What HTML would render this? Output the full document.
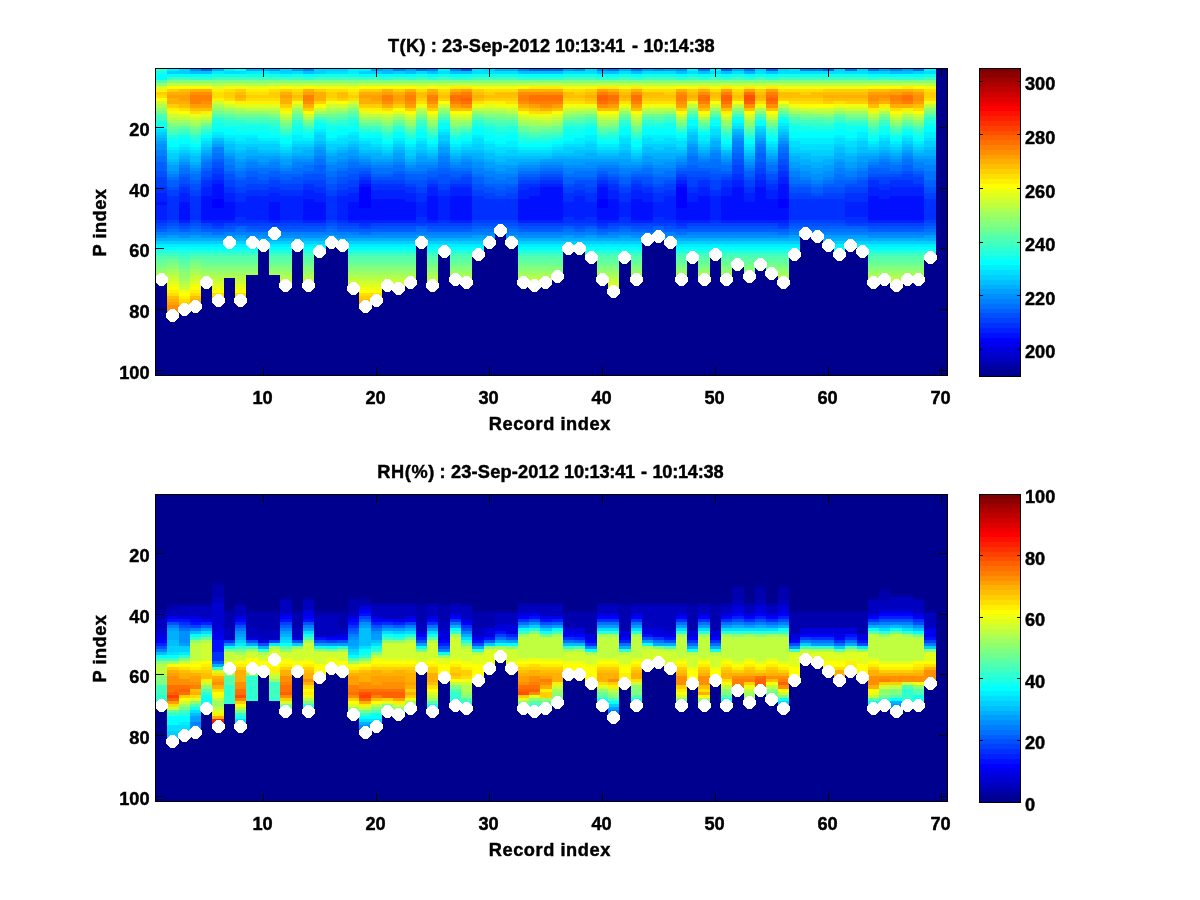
<!DOCTYPE html><html><head><meta charset="utf-8"><title>T(K) and RH(%) profiles</title>
<style>html,body{margin:0;padding:0;background:#fff}svg{display:block}text{font-family:"Liberation Sans",Arial,Helvetica,sans-serif;font-weight:bold;font-size:18.2px;fill:#000;stroke:#000;stroke-width:0.45px}</style></head><body>
<svg width="1200" height="900" viewBox="0 0 1200 900" shape-rendering="crispEdges">
<rect width="1200" height="900" fill="#fff"/>
<g>
<rect x="156" y="68" width="791" height="307" fill="#00008f"/>
<path fill="#0000ff" d="M212 199h12v9h-12zM359 187h12v21h-12zM597 199h11v9h-11zM676 187h11v21h-11zM778 199h11v9h-11z"/>
<path fill="#0010ff" d="M156 202h11v3h-11zM179 202h11v18h-11zM201 196h11v24h-11zM212 184h12v15h-12zM212 208h12v12h-12zM224 202h11v18h-11zM269 202h11v18h-11zM303 199h11v21h-11zM314 202h12v18h-12zM348 202h11v18h-11zM359 184h12v3h-12zM359 208h12v12h-12zM371 199h11v21h-11zM382 199h11v21h-11zM393 199h12v21h-12zM405 202h11v18h-11zM427 196h11v24h-11zM450 196h11v24h-11zM461 196h11v24h-11zM518 199h11v21h-11zM529 196h11v24h-11zM540 187h12v33h-12zM552 187h11v33h-11zM597 187h11v12h-11zM597 208h11v12h-11zM608 199h11v21h-11zM631 199h11v21h-11zM642 202h11v18h-11zM676 184h11v3h-11zM676 208h11v12h-11zM687 202h11v18h-11zM698 196h12v24h-12zM721 196h11v24h-11zM732 187h12v33h-12zM744 202h11v18h-11zM755 187h11v33h-11zM766 199h12v21h-12zM778 184h11v15h-11zM778 208h11v12h-11zM868 196h11v24h-11zM879 199h11v21h-11zM890 196h12v24h-12zM902 196h11v24h-11zM913 196h11v24h-11z"/>
<path fill="#0020ff" d="M156 193h11v9h-11zM156 205h11v15h-11zM179 193h11v9h-11zM179 220h11v3h-11zM201 187h11v9h-11zM201 220h11v3h-11zM212 180h12v4h-12zM212 220h12v3h-12zM224 193h11v9h-11zM224 220h11v3h-11zM235 202h11v15h-11zM246 196h12v24h-12zM258 196h11v24h-11zM269 193h11v9h-11zM269 220h11v3h-11zM280 196h12v24h-12zM292 196h11v24h-11zM303 190h11v9h-11zM303 220h11v3h-11zM314 193h12v9h-12zM314 220h12v3h-12zM337 196h11v24h-11zM348 193h11v9h-11zM348 220h11v3h-11zM359 180h12v4h-12zM359 220h12v3h-12zM371 190h11v9h-11zM371 220h11v3h-11zM382 190h11v9h-11zM382 220h11v3h-11zM393 190h12v9h-12zM393 220h12v3h-12zM405 193h11v9h-11zM405 220h11v3h-11zM416 202h11v15h-11zM427 187h11v9h-11zM427 220h11v3h-11zM438 196h12v24h-12zM450 187h11v9h-11zM450 220h11v3h-11zM461 187h11v9h-11zM461 220h11v3h-11zM518 190h11v9h-11zM518 220h11v3h-11zM529 187h11v9h-11zM529 220h11v3h-11zM540 184h12v3h-12zM540 220h12v3h-12zM552 184h11v3h-11zM552 220h11v3h-11zM563 202h11v15h-11zM574 196h11v24h-11zM585 202h12v15h-12zM597 184h11v3h-11zM597 220h11v3h-11zM608 190h11v9h-11zM608 220h11v3h-11zM619 202h12v15h-12zM631 190h11v9h-11zM631 220h11v3h-11zM642 193h11v9h-11zM642 220h11v3h-11zM653 202h11v15h-11zM664 196h12v24h-12zM676 180h11v4h-11zM676 220h11v3h-11zM687 193h11v9h-11zM687 220h11v3h-11zM698 187h12v9h-12zM698 220h12v3h-12zM710 196h11v24h-11zM721 187h11v9h-11zM721 220h11v3h-11zM732 180h12v7h-12zM732 220h12v3h-12zM744 193h11v9h-11zM744 220h11v3h-11zM755 180h11v7h-11zM755 220h11v3h-11zM766 190h12v9h-12zM766 220h12v3h-12zM778 177h11v7h-11zM778 220h11v3h-11zM845 202h12v15h-12zM857 202h11v15h-11zM868 187h11v9h-11zM868 220h11v3h-11zM879 190h11v9h-11zM879 220h11v3h-11zM890 187h12v9h-12zM890 220h12v3h-12zM902 187h11v9h-11zM902 220h11v3h-11zM913 187h11v9h-11zM913 220h11v3h-11z"/>
<path fill="#0030ff" d="M156 187h11v6h-11zM156 220h11v3h-11zM167 196h12v24h-12zM179 187h11v6h-11zM190 196h11v24h-11zM201 180h11v7h-11zM212 174h12v6h-12zM212 223h12v3h-12zM224 187h11v6h-11zM235 193h11v9h-11zM235 217h11v6h-11zM246 190h12v6h-12zM246 220h12v3h-12zM258 190h11v6h-11zM258 220h11v3h-11zM269 187h11v6h-11zM280 190h12v6h-12zM280 220h12v3h-12zM292 190h11v6h-11zM292 220h11v3h-11zM303 184h11v6h-11zM314 187h12v6h-12zM326 196h11v24h-11zM337 190h11v6h-11zM337 220h11v3h-11zM348 187h11v6h-11zM359 177h12v3h-12zM359 223h12v3h-12zM371 184h11v6h-11zM382 184h11v6h-11zM393 184h12v6h-12zM405 187h11v6h-11zM416 193h11v9h-11zM416 217h11v6h-11zM427 184h11v3h-11zM438 190h12v6h-12zM438 220h12v3h-12zM450 184h11v3h-11zM461 184h11v3h-11zM472 196h12v24h-12zM484 199h11v21h-11zM495 199h11v21h-11zM506 199h12v21h-12zM518 184h11v6h-11zM529 184h11v3h-11zM540 180h12v4h-12zM552 180h11v4h-11zM563 193h11v9h-11zM563 217h11v6h-11zM574 190h11v6h-11zM574 220h11v3h-11zM585 193h12v9h-12zM585 217h12v6h-12zM597 180h11v4h-11zM597 223h11v3h-11zM608 184h11v6h-11zM619 193h12v9h-12zM619 217h12v6h-12zM631 184h11v6h-11zM642 187h11v6h-11zM653 193h11v9h-11zM653 217h11v6h-11zM664 190h12v6h-12zM664 220h12v3h-12zM676 177h11v3h-11zM676 223h11v3h-11zM687 187h11v6h-11zM698 180h12v7h-12zM710 190h11v6h-11zM710 220h11v3h-11zM721 180h11v7h-11zM732 174h12v6h-12zM744 187h11v6h-11zM755 174h11v6h-11zM766 184h12v6h-12zM778 171h11v6h-11zM778 223h11v3h-11zM789 199h11v21h-11zM800 199h11v21h-11zM811 199h12v21h-12zM823 199h11v21h-11zM834 199h11v21h-11zM845 193h12v9h-12zM845 217h12v6h-12zM857 193h11v9h-11zM857 217h11v6h-11zM868 180h11v7h-11zM879 184h11v6h-11zM890 180h12v7h-12zM902 180h11v7h-11zM913 184h11v3h-11zM924 199h12v21h-12z"/>
<path fill="#0040ff" d="M156 177h11v10h-11zM156 223h11v3h-11zM167 190h12v6h-12zM167 220h12v3h-12zM179 184h11v3h-11zM179 223h11v3h-11zM190 190h11v6h-11zM190 220h11v3h-11zM201 177h11v3h-11zM201 223h11v3h-11zM212 168h12v6h-12zM212 226h12v3h-12zM224 180h11v7h-11zM224 223h11v3h-11zM235 187h11v6h-11zM235 223h11v3h-11zM246 184h12v6h-12zM246 223h12v3h-12zM258 184h11v6h-11zM258 223h11v3h-11zM269 180h11v7h-11zM269 223h11v3h-11zM280 184h12v6h-12zM280 223h12v3h-12zM292 184h11v6h-11zM292 223h11v3h-11zM303 180h11v4h-11zM303 223h11v3h-11zM314 180h12v7h-12zM314 223h12v3h-12zM326 190h11v6h-11zM326 220h11v3h-11zM337 184h11v6h-11zM337 223h11v3h-11zM348 180h11v7h-11zM348 223h11v3h-11zM359 174h12v3h-12zM359 226h12v3h-12zM371 180h11v4h-11zM371 223h11v3h-11zM382 180h11v4h-11zM382 223h11v3h-11zM393 180h12v4h-12zM393 223h12v3h-12zM405 184h11v3h-11zM405 223h11v3h-11zM416 187h11v6h-11zM416 223h11v3h-11zM427 180h11v4h-11zM427 223h11v3h-11zM438 184h12v6h-12zM438 223h12v3h-12zM450 180h11v4h-11zM450 223h11v3h-11zM461 177h11v7h-11zM461 223h11v3h-11zM472 190h12v6h-12zM472 220h12v3h-12zM484 193h11v6h-11zM484 220h11v3h-11zM495 196h11v3h-11zM495 220h11v3h-11zM506 193h12v6h-12zM506 220h12v3h-12zM518 180h11v4h-11zM518 223h11v3h-11zM529 180h11v4h-11zM529 223h11v3h-11zM540 177h12v3h-12zM540 223h12v3h-12zM552 177h11v3h-11zM552 223h11v3h-11zM563 187h11v6h-11zM563 223h11v3h-11zM574 184h11v6h-11zM574 223h11v3h-11zM585 187h12v6h-12zM585 223h12v3h-12zM597 177h11v3h-11zM597 226h11v3h-11zM608 180h11v4h-11zM608 223h11v3h-11zM619 187h12v6h-12zM619 223h12v3h-12zM631 180h11v4h-11zM631 223h11v3h-11zM642 184h11v3h-11zM642 223h11v3h-11zM653 187h11v6h-11zM653 223h11v3h-11zM664 184h12v6h-12zM664 223h12v3h-12zM676 174h11v3h-11zM676 226h11v3h-11zM687 177h11v10h-11zM687 223h11v3h-11zM698 177h12v3h-12zM698 223h12v3h-12zM710 180h11v10h-11zM710 223h11v3h-11zM721 177h11v3h-11zM721 223h11v3h-11zM732 165h12v9h-12zM732 223h12v3h-12zM744 180h11v7h-11zM744 223h11v3h-11zM755 168h11v6h-11zM755 223h11v3h-11zM766 180h12v4h-12zM766 223h12v3h-12zM778 165h11v6h-11zM778 226h11v3h-11zM789 193h11v6h-11zM789 220h11v3h-11zM800 193h11v6h-11zM800 220h11v3h-11zM811 196h12v3h-12zM811 220h12v3h-12zM823 193h11v6h-11zM823 220h11v3h-11zM834 193h11v6h-11zM834 220h11v3h-11zM845 187h12v6h-12zM845 223h12v3h-12zM857 187h11v6h-11zM857 223h11v3h-11zM868 177h11v3h-11zM868 223h11v3h-11zM879 177h11v7h-11zM879 223h11v3h-11zM890 177h12v3h-12zM890 223h12v3h-12zM902 174h11v6h-11zM902 223h11v3h-11zM913 177h11v7h-11zM913 223h11v3h-11zM924 193h12v6h-12zM924 220h12v3h-12z"/>
<path fill="#0050ff" d="M156 171h11v6h-11zM156 226h11v3h-11zM167 187h12v3h-12zM167 223h12v3h-12zM179 177h11v7h-11zM179 226h11v3h-11zM190 184h11v6h-11zM190 223h11v3h-11zM201 171h11v6h-11zM201 226h11v3h-11zM212 162h12v6h-12zM224 174h11v6h-11zM224 226h11v3h-11zM235 180h11v7h-11zM246 177h12v7h-12zM246 226h12v3h-12zM258 180h11v4h-11zM258 226h11v3h-11zM269 177h11v3h-11zM269 226h11v3h-11zM280 180h12v4h-12zM280 226h12v3h-12zM292 177h11v7h-11zM292 226h11v3h-11zM303 174h11v6h-11zM303 226h11v3h-11zM314 174h12v6h-12zM314 226h12v3h-12zM326 184h11v6h-11zM326 223h11v3h-11zM337 177h11v7h-11zM337 226h11v3h-11zM348 174h11v6h-11zM348 226h11v3h-11zM359 171h12v3h-12zM371 177h11v3h-11zM371 226h11v3h-11zM382 177h11v3h-11zM382 226h11v3h-11zM393 174h12v6h-12zM393 226h12v3h-12zM405 180h11v4h-11zM405 226h11v3h-11zM416 180h11v7h-11zM427 177h11v3h-11zM427 226h11v3h-11zM438 174h12v10h-12zM438 226h12v3h-12zM450 177h11v3h-11zM450 226h11v3h-11zM461 68h11v3h-11zM461 174h11v3h-11zM461 226h11v3h-11zM472 184h12v6h-12zM472 223h12v3h-12zM484 187h11v6h-11zM484 223h11v3h-11zM495 190h11v6h-11zM495 223h11v3h-11zM506 187h12v6h-12zM506 223h12v3h-12zM518 177h11v3h-11zM518 226h11v3h-11zM529 177h11v3h-11zM529 226h11v3h-11zM540 174h12v3h-12zM540 226h12v3h-12zM552 174h11v3h-11zM552 226h11v3h-11zM563 184h11v3h-11zM574 180h11v4h-11zM574 226h11v3h-11zM585 180h12v7h-12zM597 174h11v3h-11zM608 177h11v3h-11zM608 226h11v3h-11zM619 184h12v3h-12zM631 177h11v3h-11zM631 226h11v3h-11zM642 177h11v7h-11zM642 226h11v3h-11zM653 184h11v3h-11zM664 180h12v4h-12zM664 226h12v3h-12zM676 171h11v3h-11zM687 171h11v6h-11zM687 226h11v3h-11zM698 171h12v6h-12zM698 226h12v3h-12zM710 174h11v6h-11zM710 226h11v3h-11zM721 174h11v3h-11zM721 226h11v3h-11zM732 159h12v6h-12zM732 226h12v3h-12zM744 177h11v3h-11zM744 226h11v3h-11zM755 162h11v6h-11zM755 226h11v3h-11zM766 174h12v6h-12zM766 226h12v3h-12zM778 159h11v6h-11zM789 187h11v6h-11zM789 223h11v3h-11zM800 187h11v6h-11zM800 223h11v3h-11zM811 193h12v3h-12zM811 223h12v3h-12zM823 187h11v6h-11zM823 223h11v3h-11zM834 187h11v6h-11zM834 223h11v3h-11zM845 184h12v3h-12zM857 180h11v7h-11zM868 174h11v3h-11zM868 226h11v3h-11zM879 174h11v3h-11zM879 226h11v3h-11zM890 174h12v3h-12zM890 226h12v3h-12zM902 171h11v3h-11zM902 226h11v3h-11zM913 174h11v3h-11zM913 226h11v3h-11zM924 187h12v6h-12zM924 223h12v3h-12z"/>
<path fill="#0060ff" d="M156 162h11v9h-11zM156 229h11v3h-11zM167 180h12v7h-12zM167 226h12v3h-12zM179 174h11v3h-11zM179 229h11v3h-11zM190 180h11v4h-11zM190 226h11v3h-11zM201 68h11v3h-11zM201 168h11v3h-11zM201 229h11v3h-11zM212 159h12v3h-12zM212 229h12v3h-12zM224 171h11v3h-11zM224 229h11v3h-11zM235 177h11v3h-11zM235 226h11v3h-11zM246 171h12v6h-12zM246 229h12v3h-12zM258 174h11v6h-11zM258 229h11v3h-11zM269 171h11v6h-11zM269 229h11v3h-11zM280 174h12v6h-12zM280 229h12v3h-12zM292 174h11v3h-11zM292 229h11v3h-11zM303 171h11v3h-11zM303 229h11v3h-11zM314 165h12v9h-12zM314 229h12v3h-12zM326 177h11v7h-11zM326 226h11v3h-11zM337 171h11v6h-11zM337 229h11v3h-11zM348 168h11v6h-11zM348 229h11v3h-11zM359 168h12v3h-12zM359 229h12v3h-12zM371 174h11v3h-11zM371 229h11v3h-11zM382 174h11v3h-11zM382 229h11v3h-11zM393 171h12v3h-12zM393 229h12v3h-12zM405 174h11v6h-11zM405 229h11v3h-11zM416 174h11v6h-11zM416 226h11v3h-11zM427 171h11v6h-11zM427 229h11v3h-11zM438 168h12v6h-12zM438 229h12v3h-12zM450 171h11v6h-11zM450 229h11v3h-11zM461 171h11v3h-11zM461 229h11v3h-11zM472 177h12v7h-12zM472 226h12v3h-12zM484 184h11v3h-11zM484 226h11v3h-11zM495 184h11v6h-11zM495 226h11v3h-11zM506 184h12v3h-12zM506 226h12v3h-12zM518 174h11v3h-11zM518 229h11v3h-11zM529 68h11v3h-11zM529 174h11v3h-11zM529 229h11v3h-11zM540 68h12v3h-12zM540 171h12v3h-12zM540 229h12v3h-12zM552 68h11v3h-11zM552 171h11v3h-11zM552 229h11v3h-11zM563 177h11v7h-11zM563 226h11v3h-11zM574 177h11v3h-11zM574 229h11v3h-11zM585 177h12v3h-12zM585 226h12v3h-12zM597 171h11v3h-11zM597 229h11v3h-11zM608 174h11v3h-11zM608 229h11v3h-11zM619 177h12v7h-12zM619 226h12v3h-12zM631 174h11v3h-11zM631 229h11v3h-11zM642 174h11v3h-11zM642 229h11v3h-11zM653 177h11v7h-11zM653 226h11v3h-11zM664 177h12v3h-12zM664 229h12v3h-12zM676 168h11v3h-11zM676 229h11v3h-11zM687 165h11v6h-11zM687 229h11v3h-11zM698 168h12v3h-12zM698 229h12v3h-12zM710 168h11v6h-11zM710 229h11v3h-11zM721 68h11v3h-11zM721 171h11v3h-11zM721 229h11v3h-11zM732 153h12v6h-12zM732 229h12v3h-12zM744 171h11v6h-11zM744 229h11v3h-11zM755 153h11v9h-11zM755 229h11v3h-11zM766 68h12v3h-12zM766 171h12v3h-12zM766 229h12v3h-12zM778 153h11v6h-11zM778 229h11v3h-11zM789 184h11v3h-11zM789 226h11v3h-11zM800 184h11v3h-11zM800 226h11v3h-11zM811 187h12v6h-12zM811 226h12v3h-12zM823 68h11v3h-11zM823 184h11v3h-11zM823 226h11v3h-11zM834 180h11v7h-11zM834 226h11v3h-11zM845 180h12v4h-12zM845 226h12v3h-12zM857 177h11v3h-11zM857 226h11v3h-11zM868 168h11v6h-11zM868 229h11v3h-11zM879 168h11v6h-11zM879 229h11v3h-11zM890 171h12v3h-12zM890 229h12v3h-12zM902 165h11v6h-11zM902 229h11v3h-11zM913 171h11v3h-11zM913 229h11v3h-11zM924 180h12v7h-12zM924 226h12v3h-12z"/>
<path fill="#0070ff" d="M156 156h11v6h-11zM167 177h12v3h-12zM167 229h12v3h-12zM179 168h11v6h-11zM190 174h11v6h-11zM190 229h11v3h-11zM201 162h11v6h-11zM212 153h12v6h-12zM212 232h12v3h-12zM224 165h11v6h-11zM235 171h11v6h-11zM235 229h11v3h-11zM246 168h12v3h-12zM258 168h11v6h-11zM269 168h11v3h-11zM280 171h12v3h-12zM292 168h11v6h-11zM303 165h11v6h-11zM314 159h12v6h-12zM326 171h11v6h-11zM326 229h11v3h-11zM337 168h11v3h-11zM348 162h11v6h-11zM359 165h12v3h-12zM359 232h12v3h-12zM371 168h11v6h-11zM382 168h11v6h-11zM393 165h12v6h-12zM405 171h11v3h-11zM416 68h11v3h-11zM416 171h11v3h-11zM416 229h11v3h-11zM427 168h11v3h-11zM438 162h12v6h-12zM450 168h11v3h-11zM461 168h11v3h-11zM472 174h12v3h-12zM472 229h12v3h-12zM484 177h11v7h-11zM484 229h11v3h-11zM495 180h11v4h-11zM495 229h11v3h-11zM506 177h12v7h-12zM506 229h12v3h-12zM518 171h11v3h-11zM529 171h11v3h-11zM540 168h12v3h-12zM552 168h11v3h-11zM563 174h11v3h-11zM563 229h11v3h-11zM574 171h11v6h-11zM585 171h12v6h-12zM585 229h12v3h-12zM597 168h11v3h-11zM597 232h11v3h-11zM608 68h11v3h-11zM608 168h11v6h-11zM619 174h12v3h-12zM619 229h12v3h-12zM631 68h11v3h-11zM631 171h11v3h-11zM642 168h11v6h-11zM653 174h11v3h-11zM653 229h11v3h-11zM664 171h12v6h-12zM676 165h11v3h-11zM676 232h11v3h-11zM687 156h11v9h-11zM698 68h12v3h-12zM698 162h12v6h-12zM710 159h11v9h-11zM721 165h11v6h-11zM732 147h12v6h-12zM744 68h11v3h-11zM744 168h11v3h-11zM755 147h11v6h-11zM766 165h12v6h-12zM778 147h11v6h-11zM778 232h11v3h-11zM789 177h11v7h-11zM789 229h11v3h-11zM800 180h11v4h-11zM800 229h11v3h-11zM811 184h12v3h-12zM811 229h12v3h-12zM823 180h11v4h-11zM823 229h11v3h-11zM834 174h11v6h-11zM834 229h11v3h-11zM845 68h12v3h-12zM845 177h12v3h-12zM845 229h12v3h-12zM857 171h11v6h-11zM857 229h11v3h-11zM868 68h11v3h-11zM868 165h11v3h-11zM879 162h11v6h-11zM890 165h12v6h-12zM902 159h11v6h-11zM913 68h11v3h-11zM913 168h11v3h-11zM924 171h12v9h-12zM924 229h12v3h-12z"/>
<path fill="#0080ff" d="M156 150h11v6h-11zM156 232h11v3h-11zM167 174h12v3h-12zM167 232h12v3h-12zM179 165h11v3h-11zM179 232h11v3h-11zM190 171h11v3h-11zM190 232h11v3h-11zM201 159h11v3h-11zM201 232h11v3h-11zM212 147h12v6h-12zM224 159h11v6h-11zM224 232h11v3h-11zM235 168h11v3h-11zM235 232h11v3h-11zM246 162h12v6h-12zM246 232h12v3h-12zM258 165h11v3h-11zM258 232h11v3h-11zM269 162h11v6h-11zM269 232h11v3h-11zM280 168h12v3h-12zM280 232h12v3h-12zM292 162h11v6h-11zM292 232h11v3h-11zM303 68h11v3h-11zM303 162h11v3h-11zM303 232h11v3h-11zM314 156h12v3h-12zM314 232h12v3h-12zM326 165h11v6h-11zM326 232h11v3h-11zM337 162h11v6h-11zM337 232h11v3h-11zM348 159h11v3h-11zM348 232h11v3h-11zM359 162h12v3h-12zM371 165h11v3h-11zM371 232h11v3h-11zM382 165h11v3h-11zM382 232h11v3h-11zM393 68h12v3h-12zM393 162h12v3h-12zM393 232h12v3h-12zM405 168h11v3h-11zM405 232h11v3h-11zM416 165h11v6h-11zM416 232h11v3h-11zM427 68h11v3h-11zM427 165h11v3h-11zM427 232h11v3h-11zM438 156h12v6h-12zM438 232h12v3h-12zM450 68h11v3h-11zM450 165h11v3h-11zM450 232h11v3h-11zM461 162h11v6h-11zM461 232h11v3h-11zM472 168h12v6h-12zM472 232h12v3h-12zM484 171h11v6h-11zM484 232h11v3h-11zM495 174h11v6h-11zM506 174h12v3h-12zM506 232h12v3h-12zM518 68h11v3h-11zM518 168h11v3h-11zM518 232h11v3h-11zM529 168h11v3h-11zM529 232h11v3h-11zM540 165h12v3h-12zM540 232h12v3h-12zM552 165h11v3h-11zM552 232h11v3h-11zM563 168h11v6h-11zM563 232h11v3h-11zM574 168h11v3h-11zM574 232h11v3h-11zM585 168h12v3h-12zM585 232h12v3h-12zM597 68h11v3h-11zM597 165h11v3h-11zM608 165h11v3h-11zM608 232h11v3h-11zM619 168h12v6h-12zM619 232h12v3h-12zM631 168h11v3h-11zM631 232h11v3h-11zM642 165h11v3h-11zM642 232h11v3h-11zM653 168h11v6h-11zM653 232h11v3h-11zM664 168h12v3h-12zM664 232h12v3h-12zM676 162h11v3h-11zM687 153h11v3h-11zM687 232h11v3h-11zM698 159h12v3h-12zM698 232h12v3h-12zM710 153h11v6h-11zM710 232h11v3h-11zM721 162h11v3h-11zM721 232h11v3h-11zM732 141h12v6h-12zM732 232h12v3h-12zM744 165h11v3h-11zM744 232h11v3h-11zM755 144h11v3h-11zM755 232h11v3h-11zM766 162h12v3h-12zM766 232h12v3h-12zM778 144h11v3h-11zM789 171h11v6h-11zM789 232h11v3h-11zM800 68h11v3h-11zM800 177h11v3h-11zM800 232h11v3h-11zM811 68h12v3h-12zM811 180h12v4h-12zM811 232h12v3h-12zM823 177h11v3h-11zM823 232h11v3h-11zM834 168h11v6h-11zM834 232h11v3h-11zM845 171h12v6h-12zM845 232h12v3h-12zM857 168h11v3h-11zM857 232h11v3h-11zM868 162h11v3h-11zM868 232h11v3h-11zM879 159h11v3h-11zM879 232h11v3h-11zM890 68h12v3h-12zM890 162h12v3h-12zM890 232h12v3h-12zM902 156h11v3h-11zM902 232h11v3h-11zM913 162h11v6h-11zM913 232h11v3h-11zM924 165h12v6h-12zM924 232h12v3h-12z"/>
<path fill="#008fff" d="M156 144h11v6h-11zM156 235h11v3h-11zM167 171h12v3h-12zM179 162h11v3h-11zM179 235h11v3h-11zM190 68h11v3h-11zM190 168h11v3h-11zM201 156h11v3h-11zM201 235h11v3h-11zM212 235h12v3h-12zM224 156h11v3h-11zM224 235h11v3h-11zM235 162h11v6h-11zM246 159h12v3h-12zM246 235h12v3h-12zM258 162h11v3h-11zM258 235h11v3h-11zM269 159h11v3h-11zM269 235h11v3h-11zM280 165h12v3h-12zM280 235h12v3h-12zM292 159h11v3h-11zM292 235h11v3h-11zM303 159h11v3h-11zM303 235h11v3h-11zM314 150h12v6h-12zM314 235h12v3h-12zM326 162h11v3h-11zM337 159h11v3h-11zM337 235h11v3h-11zM348 156h11v3h-11zM348 235h11v3h-11zM359 159h12v3h-12zM359 235h12v3h-12zM371 162h11v3h-11zM371 235h11v3h-11zM382 162h11v3h-11zM382 235h11v3h-11zM393 159h12v3h-12zM393 235h12v3h-12zM405 165h11v3h-11zM405 235h11v3h-11zM416 162h11v3h-11zM427 162h11v3h-11zM427 235h11v3h-11zM438 153h12v3h-12zM438 235h12v3h-12zM450 162h11v3h-11zM450 235h11v3h-11zM461 159h11v3h-11zM461 235h11v3h-11zM472 162h12v6h-12zM484 168h11v3h-11zM495 171h11v3h-11zM506 168h12v6h-12zM518 165h11v3h-11zM518 235h11v3h-11zM529 165h11v3h-11zM529 235h11v3h-11zM540 162h12v3h-12zM540 235h12v3h-12zM552 162h11v3h-11zM552 235h11v3h-11zM563 165h11v3h-11zM574 68h11v3h-11zM574 165h11v3h-11zM574 235h11v3h-11zM585 162h12v6h-12zM597 162h11v3h-11zM597 235h11v3h-11zM608 162h11v3h-11zM608 235h11v3h-11zM619 165h12v3h-12zM631 165h11v3h-11zM631 235h11v3h-11zM642 162h11v3h-11zM642 235h11v3h-11zM653 68h11v3h-11zM653 165h11v3h-11zM664 162h12v6h-12zM664 235h12v3h-12zM676 68h11v3h-11zM676 159h11v3h-11zM676 235h11v3h-11zM687 147h11v6h-11zM687 235h11v3h-11zM698 156h12v3h-12zM698 235h12v3h-12zM710 150h11v3h-11zM710 235h11v3h-11zM721 159h11v3h-11zM721 235h11v3h-11zM732 138h12v3h-12zM732 235h12v3h-12zM744 162h11v3h-11zM744 235h11v3h-11zM755 141h11v3h-11zM755 235h11v3h-11zM766 159h12v3h-12zM766 235h12v3h-12zM778 141h11v3h-11zM778 235h11v3h-11zM789 168h11v3h-11zM800 171h11v6h-11zM811 174h12v6h-12zM823 171h11v6h-11zM834 162h11v6h-11zM845 168h12v3h-12zM857 162h11v6h-11zM868 159h11v3h-11zM868 235h11v3h-11zM879 156h11v3h-11zM879 235h11v3h-11zM890 159h12v3h-12zM890 235h12v3h-12zM902 153h11v3h-11zM902 235h11v3h-11zM913 159h11v3h-11zM913 235h11v3h-11zM924 159h12v6h-12z"/>
<path fill="#009fff" d="M156 141h11v3h-11zM167 165h12v6h-12zM167 235h12v3h-12zM179 159h11v3h-11zM190 165h11v3h-11zM190 235h11v3h-11zM201 153h11v3h-11zM212 144h12v3h-12zM224 153h11v3h-11zM235 159h11v3h-11zM235 235h11v3h-11zM246 156h12v3h-12zM258 156h11v6h-11zM269 68h11v3h-11zM269 156h11v3h-11zM280 159h12v6h-12zM292 68h11v3h-11zM292 156h11v3h-11zM303 156h11v3h-11zM314 147h12v3h-12zM326 156h11v6h-11zM326 235h11v3h-11zM337 153h11v6h-11zM348 150h11v6h-11zM359 156h12v3h-12zM371 68h11v3h-11zM371 159h11v3h-11zM382 159h11v3h-11zM393 153h12v6h-12zM405 68h11v3h-11zM405 162h11v3h-11zM416 156h11v6h-11zM416 235h11v3h-11zM427 159h11v3h-11zM438 147h12v6h-12zM450 159h11v3h-11zM461 156h11v3h-11zM472 159h12v3h-12zM472 235h12v3h-12zM484 162h11v6h-11zM484 235h11v3h-11zM495 165h11v6h-11zM506 165h12v3h-12zM506 235h12v3h-12zM518 162h11v3h-11zM529 162h11v3h-11zM540 159h12v3h-12zM552 159h11v3h-11zM563 68h11v3h-11zM563 159h11v6h-11zM563 235h11v3h-11zM574 159h11v6h-11zM585 159h12v3h-12zM585 235h12v3h-12zM597 159h11v3h-11zM608 159h11v3h-11zM619 159h12v6h-12zM619 235h12v3h-12zM631 162h11v3h-11zM642 68h11v3h-11zM642 156h11v6h-11zM653 159h11v6h-11zM653 235h11v3h-11zM664 68h12v3h-12zM664 159h12v3h-12zM676 156h11v3h-11zM687 144h11v3h-11zM698 153h12v3h-12zM710 147h11v3h-11zM721 156h11v3h-11zM732 135h12v3h-12zM744 159h11v3h-11zM755 138h11v3h-11zM766 156h12v3h-12zM778 138h11v3h-11zM789 162h11v6h-11zM789 235h11v3h-11zM800 165h11v6h-11zM811 168h12v6h-12zM811 235h12v3h-12zM823 165h11v6h-11zM823 235h11v3h-11zM834 159h11v3h-11zM834 235h11v3h-11zM845 162h12v6h-12zM845 235h12v3h-12zM857 156h11v6h-11zM857 235h11v3h-11zM868 156h11v3h-11zM879 68h11v3h-11zM879 153h11v3h-11zM890 156h12v3h-12zM902 68h11v3h-11zM902 150h11v3h-11zM913 156h11v3h-11zM924 156h12v3h-12zM924 235h12v3h-12z"/>
<path fill="#00afff" d="M156 138h11v3h-11zM156 238h11v3h-11zM167 162h12v3h-12zM167 238h12v3h-12zM179 156h11v3h-11zM179 238h11v3h-11zM190 162h11v3h-11zM190 238h11v3h-11zM201 150h11v3h-11zM201 238h11v3h-11zM212 68h12v3h-12zM212 141h12v3h-12zM212 238h12v3h-12zM224 150h11v3h-11zM224 238h11v3h-11zM235 153h11v6h-11zM235 238h11v3h-11zM246 68h12v3h-12zM246 150h12v6h-12zM246 238h12v3h-12zM258 68h11v3h-11zM258 153h11v3h-11zM258 238h11v3h-11zM269 153h11v3h-11zM269 238h11v3h-11zM280 156h12v3h-12zM280 238h12v3h-12zM292 153h11v3h-11zM292 238h11v3h-11zM303 150h11v6h-11zM303 238h11v3h-11zM314 144h12v3h-12zM314 238h12v3h-12zM326 153h11v3h-11zM326 238h11v3h-11zM337 150h11v3h-11zM337 238h11v3h-11zM348 147h11v3h-11zM348 238h11v3h-11zM359 153h12v3h-12zM359 238h12v3h-12zM371 153h11v6h-11zM371 238h11v3h-11zM382 68h11v3h-11zM382 156h11v3h-11zM382 238h11v3h-11zM393 150h12v3h-12zM393 238h12v3h-12zM405 159h11v3h-11zM405 238h11v3h-11zM416 153h11v3h-11zM416 238h11v3h-11zM427 156h11v3h-11zM427 238h11v3h-11zM438 144h12v3h-12zM438 238h12v3h-12zM450 156h11v3h-11zM450 238h11v3h-11zM461 153h11v3h-11zM461 238h11v3h-11zM472 153h12v6h-12zM472 238h12v3h-12zM484 159h11v3h-11zM484 238h11v3h-11zM495 68h11v3h-11zM495 162h11v3h-11zM506 68h12v3h-12zM506 159h12v6h-12zM506 238h12v3h-12zM518 159h11v3h-11zM518 238h11v3h-11zM529 159h11v3h-11zM529 238h11v3h-11zM540 238h12v3h-12zM552 156h11v3h-11zM552 238h11v3h-11zM563 156h11v3h-11zM563 238h11v3h-11zM574 156h11v3h-11zM574 238h11v3h-11zM585 153h12v6h-12zM585 238h12v3h-12zM597 156h11v3h-11zM597 238h11v3h-11zM608 156h11v3h-11zM608 238h11v3h-11zM619 68h12v3h-12zM619 153h12v6h-12zM619 238h12v3h-12zM631 159h11v3h-11zM631 238h11v3h-11zM642 153h11v3h-11zM642 238h11v3h-11zM653 153h11v6h-11zM664 153h12v6h-12zM664 238h12v3h-12zM676 153h11v3h-11zM676 238h11v3h-11zM687 141h11v3h-11zM687 238h11v3h-11zM698 150h12v3h-12zM698 238h12v3h-12zM710 141h11v6h-11zM710 238h11v3h-11zM721 153h11v3h-11zM721 238h11v3h-11zM732 68h12v3h-12zM732 132h12v3h-12zM732 238h12v3h-12zM744 71h11v3h-11zM744 156h11v3h-11zM744 238h11v3h-11zM755 135h11v3h-11zM755 238h11v3h-11zM766 153h12v3h-12zM766 238h12v3h-12zM778 135h11v3h-11zM778 238h11v3h-11zM789 156h11v6h-11zM789 238h11v3h-11zM800 159h11v6h-11zM811 162h12v6h-12zM823 159h11v6h-11zM823 238h11v3h-11zM834 153h11v6h-11zM834 238h11v3h-11zM845 156h12v6h-12zM845 238h12v3h-12zM857 153h11v3h-11zM857 238h11v3h-11zM868 153h11v3h-11zM868 238h11v3h-11zM879 150h11v3h-11zM879 238h11v3h-11zM890 153h12v3h-12zM890 238h12v3h-12zM902 147h11v3h-11zM902 238h11v3h-11zM913 153h11v3h-11zM913 238h11v3h-11zM924 150h12v6h-12zM924 238h12v3h-12z"/>
<path fill="#00bfff" d="M156 135h11v3h-11zM167 159h12v3h-12zM179 153h11v3h-11zM190 71h11v3h-11zM190 156h11v6h-11zM201 71h11v3h-11zM201 147h11v3h-11zM212 138h12v3h-12zM224 144h11v6h-11zM235 150h11v3h-11zM246 147h12v3h-12zM258 150h11v3h-11zM269 150h11v3h-11zM280 153h12v3h-12zM292 147h11v6h-11zM303 71h11v3h-11zM303 147h11v3h-11zM314 141h12v3h-12zM326 150h11v3h-11zM337 147h11v3h-11zM348 144h11v3h-11zM359 150h12v3h-12zM371 150h11v3h-11zM382 71h11v3h-11zM382 153h11v3h-11zM393 147h12v3h-12zM405 71h11v3h-11zM405 156h11v3h-11zM416 150h11v3h-11zM427 71h11v3h-11zM427 153h11v3h-11zM438 141h12v3h-12zM450 71h11v3h-11zM450 153h11v3h-11zM461 71h11v3h-11zM461 150h11v3h-11zM472 150h12v3h-12zM484 153h11v6h-11zM495 156h11v6h-11zM506 156h12v3h-12zM518 71h11v3h-11zM518 156h11v3h-11zM529 71h11v3h-11zM529 156h11v3h-11zM540 71h12v3h-12zM540 156h12v3h-12zM552 71h11v3h-11zM552 153h11v3h-11zM563 153h11v3h-11zM574 150h11v6h-11zM585 150h12v3h-12zM597 71h11v3h-11zM597 153h11v3h-11zM608 71h11v3h-11zM608 153h11v3h-11zM619 150h12v3h-12zM631 71h11v3h-11zM631 156h11v3h-11zM642 147h11v6h-11zM653 150h11v3h-11zM664 147h12v6h-12zM676 71h11v3h-11zM676 150h11v3h-11zM687 135h11v6h-11zM698 71h12v3h-12zM698 147h12v3h-12zM710 138h11v3h-11zM721 71h11v3h-11zM721 150h11v3h-11zM732 129h12v3h-12zM744 153h11v3h-11zM755 132h11v3h-11zM766 71h12v3h-12zM766 150h12v3h-12zM778 132h11v3h-11zM789 153h11v3h-11zM800 153h11v6h-11zM811 156h12v6h-12zM823 156h11v3h-11zM834 147h11v6h-11zM845 153h12v3h-12zM857 147h11v6h-11zM868 150h11v3h-11zM879 147h11v3h-11zM890 71h12v3h-12zM890 150h12v3h-12zM902 71h11v3h-11zM902 144h11v3h-11zM913 150h11v3h-11zM924 147h12v3h-12z"/>
<path fill="#00cfff" d="M156 132h11v3h-11zM156 241h11v3h-11zM167 71h12v3h-12zM167 153h12v6h-12zM167 241h12v3h-12zM179 68h11v6h-11zM179 150h11v3h-11zM179 241h11v3h-11zM190 153h11v3h-11zM190 241h11v3h-11zM201 144h11v3h-11zM201 241h11v3h-11zM212 241h12v3h-12zM224 141h11v3h-11zM224 241h11v3h-11zM235 144h11v6h-11zM235 241h11v3h-11zM246 144h12v3h-12zM246 241h12v3h-12zM258 144h11v6h-11zM258 241h11v3h-11zM269 144h11v6h-11zM269 241h11v3h-11zM280 68h12v6h-12zM280 150h12v3h-12zM280 241h12v3h-12zM292 144h11v3h-11zM292 241h11v3h-11zM303 144h11v3h-11zM303 241h11v3h-11zM314 68h12v6h-12zM314 135h12v6h-12zM314 241h12v3h-12zM326 68h11v3h-11zM326 144h11v6h-11zM326 241h11v3h-11zM337 68h11v3h-11zM337 144h11v3h-11zM337 241h11v3h-11zM348 141h11v3h-11zM348 241h11v3h-11zM359 71h12v3h-12zM359 144h12v6h-12zM359 241h12v3h-12zM371 71h11v3h-11zM371 147h11v3h-11zM371 241h11v3h-11zM382 150h11v3h-11zM382 241h11v3h-11zM393 71h12v3h-12zM393 144h12v3h-12zM393 241h12v3h-12zM405 150h11v6h-11zM405 241h11v3h-11zM416 144h11v6h-11zM416 241h11v3h-11zM427 150h11v3h-11zM427 241h11v3h-11zM438 135h12v6h-12zM438 241h12v3h-12zM450 150h11v3h-11zM450 241h11v3h-11zM461 147h11v3h-11zM461 241h11v3h-11zM472 144h12v6h-12zM472 241h12v3h-12zM484 68h11v3h-11zM484 150h11v3h-11zM484 241h11v3h-11zM495 153h11v3h-11zM506 150h12v6h-12zM506 241h12v3h-12zM518 153h11v3h-11zM518 241h11v3h-11zM529 153h11v3h-11zM529 241h11v3h-11zM540 153h12v3h-12zM540 241h12v3h-12zM552 150h11v3h-11zM552 241h11v3h-11zM563 147h11v6h-11zM563 241h11v3h-11zM574 147h11v3h-11zM574 241h11v3h-11zM585 68h12v3h-12zM585 144h12v6h-12zM585 241h12v3h-12zM597 150h11v3h-11zM597 241h11v3h-11zM608 150h11v3h-11zM608 241h11v3h-11zM619 144h12v6h-12zM619 241h12v3h-12zM631 153h11v3h-11zM631 241h11v3h-11zM642 144h11v3h-11zM653 144h11v6h-11zM664 144h12v3h-12zM664 241h12v3h-12zM676 147h11v3h-11zM676 241h11v3h-11zM687 132h11v3h-11zM687 241h11v3h-11zM698 144h12v3h-12zM698 241h12v3h-12zM710 135h11v3h-11zM710 241h11v3h-11zM721 241h11v3h-11zM732 241h12v3h-12zM744 150h11v3h-11zM744 241h11v3h-11zM755 68h11v3h-11zM755 129h11v3h-11zM755 241h11v3h-11zM766 147h12v3h-12zM766 241h12v3h-12zM778 68h11v3h-11zM778 129h11v3h-11zM778 241h11v3h-11zM789 147h11v6h-11zM789 241h11v3h-11zM800 150h11v3h-11zM811 150h12v6h-12zM823 150h11v6h-11zM823 241h11v3h-11zM834 68h11v3h-11zM834 144h11v3h-11zM834 241h11v3h-11zM845 147h12v6h-12zM845 241h12v3h-12zM857 68h11v3h-11zM857 141h11v6h-11zM857 241h11v3h-11zM868 71h11v3h-11zM868 147h11v3h-11zM868 241h11v3h-11zM879 71h11v3h-11zM879 141h11v6h-11zM879 241h11v3h-11zM890 147h12v3h-12zM890 241h12v3h-12zM902 141h11v3h-11zM902 241h11v3h-11zM913 71h11v3h-11zM913 147h11v3h-11zM913 241h11v3h-11zM924 141h12v6h-12zM924 241h12v3h-12z"/>
<path fill="#00dfff" d="M156 129h11v3h-11zM167 150h12v3h-12zM179 147h11v3h-11zM190 150h11v3h-11zM201 141h11v3h-11zM212 135h12v3h-12zM224 71h11v3h-11zM224 138h11v3h-11zM235 71h11v3h-11zM235 141h11v3h-11zM246 138h12v6h-12zM258 141h11v3h-11zM269 71h11v3h-11zM269 141h11v3h-11zM280 147h12v3h-12zM292 71h11v3h-11zM292 141h11v3h-11zM303 141h11v3h-11zM314 132h12v3h-12zM326 71h11v3h-11zM326 141h11v3h-11zM337 71h11v3h-11zM337 138h11v6h-11zM348 135h11v6h-11zM359 141h12v3h-12zM371 144h11v3h-11zM382 147h11v3h-11zM393 141h12v3h-12zM405 147h11v3h-11zM416 71h11v3h-11zM416 141h11v3h-11zM427 147h11v3h-11zM438 71h12v3h-12zM438 132h12v3h-12zM450 147h11v3h-11zM461 144h11v3h-11zM472 68h12v6h-12zM472 138h12v6h-12zM484 71h11v3h-11zM484 144h11v6h-11zM495 71h11v3h-11zM495 147h11v6h-11zM506 71h12v3h-12zM506 147h12v3h-12zM518 150h11v3h-11zM529 150h11v3h-11zM540 150h12v3h-12zM552 147h11v3h-11zM563 71h11v3h-11zM563 144h11v3h-11zM574 71h11v3h-11zM574 144h11v3h-11zM585 71h12v3h-12zM585 141h12v3h-12zM597 147h11v3h-11zM608 147h11v3h-11zM619 71h12v3h-12zM619 138h12v6h-12zM631 150h11v3h-11zM642 71h11v3h-11zM642 138h11v6h-11zM653 71h11v3h-11zM653 141h11v3h-11zM664 71h12v3h-12zM664 138h12v6h-12zM676 141h11v6h-11zM687 71h11v3h-11zM687 129h11v3h-11zM698 141h12v3h-12zM710 71h11v3h-11zM710 129h11v6h-11zM721 147h11v3h-11zM732 71h12v3h-12zM732 126h12v3h-12zM744 147h11v3h-11zM755 71h11v3h-11zM755 126h11v3h-11zM766 144h12v3h-12zM778 71h11v3h-11zM778 126h11v3h-11zM789 68h11v6h-11zM789 141h11v6h-11zM800 71h11v3h-11zM800 144h11v6h-11zM811 71h12v3h-12zM811 144h12v6h-12zM823 71h11v3h-11zM823 144h11v6h-11zM834 71h11v3h-11zM834 138h11v6h-11zM845 71h12v3h-12zM845 141h12v6h-12zM857 71h11v3h-11zM857 138h11v3h-11zM868 144h11v3h-11zM879 138h11v3h-11zM890 144h12v3h-12zM902 138h11v3h-11zM913 144h11v3h-11zM924 71h12v3h-12zM924 138h12v3h-12z"/>
<path fill="#00efff" d="M156 244h11v3h-11zM167 68h12v3h-12zM167 147h12v3h-12zM167 244h12v3h-12zM179 144h11v3h-11zM179 244h11v3h-11zM190 147h11v3h-11zM190 244h11v3h-11zM201 138h11v3h-11zM201 244h11v3h-11zM212 71h12v3h-12zM212 132h12v3h-12zM212 244h12v3h-12zM224 68h11v3h-11zM224 135h11v3h-11zM224 244h11v3h-11zM235 135h11v6h-11zM235 244h11v3h-11zM246 71h12v3h-12zM246 135h12v3h-12zM246 244h12v3h-12zM258 71h11v3h-11zM258 138h11v3h-11zM258 244h11v3h-11zM269 138h11v3h-11zM269 244h11v3h-11zM280 144h12v3h-12zM280 244h12v3h-12zM292 135h11v6h-11zM292 244h11v3h-11zM303 138h11v3h-11zM303 244h11v3h-11zM314 129h12v3h-12zM314 244h12v3h-12zM326 138h11v3h-11zM337 135h11v3h-11zM337 244h11v3h-11zM348 68h11v6h-11zM348 132h11v3h-11zM348 244h11v3h-11zM359 68h12v3h-12zM359 138h12v3h-12zM359 244h12v3h-12zM371 138h11v6h-11zM371 244h11v3h-11zM382 144h11v3h-11zM382 244h11v3h-11zM393 138h12v3h-12zM393 244h12v3h-12zM405 144h11v3h-11zM405 244h11v3h-11zM416 138h11v3h-11zM427 144h11v3h-11zM427 244h11v3h-11zM438 68h12v3h-12zM438 129h12v3h-12zM438 244h12v3h-12zM450 144h11v3h-11zM450 244h11v3h-11zM461 141h11v3h-11zM461 244h11v3h-11zM472 135h12v3h-12zM472 244h12v3h-12zM484 141h11v3h-11zM495 144h11v3h-11zM506 141h12v6h-12zM518 147h11v3h-11zM518 244h11v3h-11zM529 147h11v3h-11zM529 244h11v3h-11zM540 147h12v3h-12zM540 244h12v3h-12zM552 144h11v3h-11zM552 244h11v3h-11zM563 141h11v3h-11zM563 244h11v3h-11zM574 138h11v6h-11zM574 244h11v3h-11zM585 135h12v6h-12zM585 244h12v3h-12zM597 144h11v3h-11zM597 244h11v3h-11zM608 144h11v3h-11zM608 244h11v3h-11zM619 135h12v3h-12zM619 244h12v3h-12zM631 147h11v3h-11zM631 244h11v3h-11zM642 135h11v3h-11zM653 135h11v6h-11zM664 135h12v3h-12zM676 138h11v3h-11zM676 244h11v3h-11zM687 68h11v3h-11zM687 126h11v3h-11zM687 244h11v3h-11zM698 135h12v6h-12zM698 244h12v3h-12zM710 68h11v3h-11zM710 126h11v3h-11zM710 244h11v3h-11zM721 144h11v3h-11zM721 244h11v3h-11zM732 123h12v3h-12zM732 244h12v3h-12zM744 144h11v3h-11zM744 244h11v3h-11zM755 244h11v3h-11zM766 141h12v3h-12zM766 244h12v3h-12zM778 123h11v3h-11zM778 244h11v3h-11zM789 138h11v3h-11zM789 244h11v3h-11zM800 138h11v6h-11zM811 138h12v6h-12zM823 138h11v6h-11zM823 244h11v3h-11zM834 135h11v3h-11zM834 244h11v3h-11zM845 138h12v3h-12zM845 244h12v3h-12zM857 132h11v6h-11zM857 244h11v3h-11zM868 141h11v3h-11zM868 244h11v3h-11zM879 135h11v3h-11zM879 244h11v3h-11zM890 141h12v3h-12zM890 244h12v3h-12zM902 135h11v3h-11zM902 244h11v3h-11zM913 141h11v3h-11zM913 244h11v3h-11zM924 68h12v3h-12zM924 132h12v6h-12zM924 244h12v3h-12z"/>
<path fill="#00ffff" d="M156 74h11v6h-11zM156 126h11v3h-11zM156 247h11v3h-11zM167 74h12v3h-12zM167 141h12v6h-12zM167 247h12v3h-12zM179 74h11v3h-11zM179 138h11v6h-11zM179 247h11v3h-11zM190 74h11v3h-11zM190 144h11v3h-11zM190 247h11v3h-11zM201 74h11v3h-11zM201 135h11v3h-11zM201 247h11v3h-11zM212 129h12v3h-12zM212 247h12v3h-12zM224 129h11v6h-11zM224 247h11v3h-11zM235 68h11v3h-11zM235 132h11v3h-11zM235 247h11v3h-11zM246 132h12v3h-12zM246 247h12v3h-12zM258 132h11v6h-11zM269 135h11v3h-11zM269 247h11v3h-11zM280 74h12v3h-12zM280 138h12v6h-12zM280 247h12v3h-12zM292 132h11v3h-11zM303 74h11v3h-11zM303 135h11v3h-11zM303 247h11v3h-11zM314 123h12v6h-12zM314 247h12v3h-12zM326 132h11v6h-11zM337 129h11v6h-11zM348 129h11v3h-11zM348 247h11v3h-11zM359 74h12v3h-12zM359 135h12v3h-12zM359 247h12v3h-12zM371 74h11v3h-11zM371 135h11v3h-11zM371 247h11v3h-11zM382 74h11v3h-11zM382 141h11v3h-11zM382 247h11v3h-11zM393 74h12v3h-12zM393 132h12v6h-12zM393 247h12v3h-12zM405 74h11v3h-11zM405 141h11v3h-11zM405 247h11v3h-11zM416 132h11v6h-11zM427 74h11v3h-11zM427 141h11v3h-11zM427 247h11v3h-11zM438 123h12v6h-12zM438 247h12v3h-12zM450 74h11v3h-11zM450 141h11v3h-11zM450 247h11v3h-11zM461 74h11v3h-11zM461 138h11v3h-11zM461 247h11v3h-11zM472 129h12v6h-12zM472 247h12v3h-12zM484 135h11v6h-11zM495 138h11v6h-11zM506 135h12v6h-12zM518 74h11v3h-11zM518 144h11v3h-11zM518 247h11v3h-11zM529 74h11v3h-11zM529 144h11v3h-11zM529 247h11v3h-11zM540 74h12v3h-12zM540 144h12v3h-12zM540 247h12v3h-12zM552 74h11v3h-11zM552 141h11v3h-11zM552 247h11v3h-11zM563 135h11v6h-11zM563 247h11v3h-11zM574 135h11v3h-11zM574 247h11v3h-11zM585 129h12v6h-12zM585 247h12v3h-12zM597 74h11v3h-11zM597 141h11v3h-11zM597 247h11v3h-11zM608 74h11v3h-11zM608 141h11v3h-11zM608 247h11v3h-11zM619 129h12v6h-12zM619 247h12v3h-12zM631 74h11v3h-11zM631 141h11v6h-11zM631 247h11v3h-11zM642 129h11v6h-11zM653 129h11v6h-11zM664 129h12v6h-12zM676 74h11v3h-11zM676 135h11v3h-11zM676 247h11v3h-11zM687 120h11v6h-11zM687 247h11v3h-11zM698 74h12v3h-12zM698 132h12v3h-12zM698 247h12v3h-12zM710 123h11v3h-11zM710 247h11v3h-11zM721 74h11v3h-11zM721 141h11v3h-11zM721 247h11v3h-11zM732 120h12v3h-12zM732 247h12v3h-12zM744 74h11v3h-11zM744 141h11v3h-11zM744 247h11v3h-11zM755 123h11v3h-11zM755 247h11v3h-11zM766 74h12v3h-12zM766 138h12v3h-12zM766 247h12v3h-12zM778 120h11v3h-11zM778 247h11v3h-11zM789 132h11v6h-11zM789 247h11v3h-11zM800 132h11v6h-11zM811 132h12v6h-12zM823 132h11v6h-11zM834 129h11v6h-11zM834 247h11v3h-11zM845 132h12v6h-12zM857 129h11v3h-11zM857 247h11v3h-11zM868 74h11v3h-11zM868 138h11v3h-11zM868 247h11v3h-11zM879 74h11v3h-11zM879 132h11v3h-11zM879 247h11v3h-11zM890 74h12v3h-12zM890 138h12v3h-12zM890 247h12v3h-12zM902 74h11v3h-11zM902 132h11v3h-11zM902 247h11v3h-11zM913 74h11v3h-11zM913 138h11v3h-11zM913 247h11v3h-11zM924 126h12v6h-12zM924 247h12v3h-12z"/>
<path fill="#10ffef" d="M156 71h11v3h-11zM156 123h11v3h-11zM167 138h12v3h-12zM179 135h11v3h-11zM190 141h11v3h-11zM212 74h12v3h-12zM212 123h12v6h-12zM224 74h11v3h-11zM224 126h11v3h-11zM235 74h11v3h-11zM235 126h11v6h-11zM246 74h12v3h-12zM246 126h12v6h-12zM258 74h11v3h-11zM258 126h11v6h-11zM269 74h11v3h-11zM269 129h11v6h-11zM280 135h12v3h-12zM292 74h11v3h-11zM292 126h11v6h-11zM303 132h11v3h-11zM314 74h12v3h-12zM326 74h11v3h-11zM326 126h11v6h-11zM337 74h11v3h-11zM337 126h11v3h-11zM348 74h11v3h-11zM348 123h11v6h-11zM359 132h12v3h-12zM371 132h11v3h-11zM382 138h11v3h-11zM405 138h11v3h-11zM416 74h11v3h-11zM416 129h11v3h-11zM427 138h11v3h-11zM438 74h12v3h-12zM450 138h11v3h-11zM461 135h11v3h-11zM472 74h12v3h-12zM472 126h12v3h-12zM484 74h11v3h-11zM484 129h11v6h-11zM495 74h11v3h-11zM495 132h11v6h-11zM506 74h12v3h-12zM506 132h12v3h-12zM518 141h11v3h-11zM529 141h11v3h-11zM540 141h12v3h-12zM552 138h11v3h-11zM563 74h11v3h-11zM563 129h11v6h-11zM574 74h11v3h-11zM574 129h11v6h-11zM585 74h12v3h-12zM585 126h12v3h-12zM597 138h11v3h-11zM608 138h11v3h-11zM619 74h12v3h-12zM619 126h12v3h-12zM631 138h11v3h-11zM642 74h11v3h-11zM642 126h11v3h-11zM653 74h11v3h-11zM653 126h11v3h-11zM664 74h12v3h-12zM664 123h12v6h-12zM676 132h11v3h-11zM687 74h11v3h-11zM710 74h11v3h-11zM710 120h11v3h-11zM721 138h11v3h-11zM732 74h12v3h-12zM732 117h12v3h-12zM744 138h11v3h-11zM755 74h11v3h-11zM755 120h11v3h-11zM766 135h12v3h-12zM778 74h11v3h-11zM778 117h11v3h-11zM789 74h11v3h-11zM789 126h11v6h-11zM800 74h11v3h-11zM800 126h11v6h-11zM811 74h12v3h-12zM811 129h12v3h-12zM823 74h11v3h-11zM823 129h11v3h-11zM834 74h11v3h-11zM834 123h11v6h-11zM845 74h12v3h-12zM845 126h12v6h-12zM857 74h11v3h-11zM857 126h11v3h-11zM868 135h11v3h-11zM879 126h11v6h-11zM890 135h12v3h-12zM902 129h11v3h-11zM913 135h11v3h-11zM924 74h12v3h-12zM924 123h12v3h-12z"/>
<path fill="#20ffdf" d="M156 120h11v3h-11zM156 250h11v3h-11zM167 135h12v3h-12zM167 250h12v3h-12zM179 250h11v3h-11zM190 138h11v3h-11zM190 250h11v3h-11zM201 132h11v3h-11zM201 250h11v3h-11zM212 120h12v3h-12zM212 250h12v3h-12zM224 123h11v3h-11zM224 250h11v3h-11zM235 123h11v3h-11zM235 250h11v3h-11zM246 123h12v3h-12zM246 250h12v3h-12zM258 123h11v3h-11zM269 126h11v3h-11zM269 250h11v3h-11zM280 250h12v3h-12zM292 123h11v3h-11zM303 129h11v3h-11zM303 250h11v3h-11zM314 120h12v3h-12zM326 123h11v3h-11zM337 123h11v3h-11zM348 120h11v3h-11zM348 250h11v3h-11zM359 129h12v3h-12zM359 250h12v3h-12zM371 250h11v3h-11zM382 135h11v3h-11zM382 250h11v3h-11zM393 129h12v3h-12zM393 250h12v3h-12zM405 135h11v3h-11zM405 250h11v3h-11zM416 126h11v3h-11zM427 135h11v3h-11zM427 250h11v3h-11zM438 120h12v3h-12zM450 135h11v3h-11zM450 250h11v3h-11zM461 132h11v3h-11zM461 250h11v3h-11zM472 123h12v3h-12zM472 250h12v3h-12zM484 126h11v3h-11zM495 129h11v3h-11zM506 126h12v6h-12zM518 138h11v3h-11zM518 250h11v3h-11zM529 138h11v3h-11zM529 250h11v3h-11zM540 138h12v3h-12zM540 250h12v3h-12zM552 250h11v3h-11zM563 126h11v3h-11zM574 126h11v3h-11zM585 123h12v3h-12zM585 250h12v3h-12zM597 135h11v3h-11zM597 250h11v3h-11zM608 135h11v3h-11zM608 250h11v3h-11zM619 123h12v3h-12zM619 250h12v3h-12zM631 250h11v3h-11zM642 123h11v3h-11zM653 123h11v3h-11zM676 250h11v3h-11zM687 117h11v3h-11zM687 250h11v3h-11zM698 129h12v3h-12zM698 250h12v3h-12zM710 117h11v3h-11zM710 250h11v3h-11zM721 135h11v3h-11zM721 250h11v3h-11zM732 250h12v3h-12zM744 135h11v3h-11zM744 250h11v3h-11zM755 250h11v3h-11zM766 132h12v3h-12zM766 250h12v3h-12zM778 250h11v3h-11zM789 123h11v3h-11zM789 250h11v3h-11zM811 126h12v3h-12zM823 126h11v3h-11zM834 250h11v3h-11zM845 123h12v3h-12zM857 123h11v3h-11zM868 132h11v3h-11zM868 250h11v3h-11zM879 250h11v3h-11zM890 250h12v3h-12zM902 250h11v3h-11zM913 132h11v3h-11zM913 250h11v3h-11zM924 120h12v3h-12zM924 250h12v3h-12z"/>
<path fill="#30ffcf" d="M156 68h11v3h-11zM179 132h11v3h-11zM179 253h11v3h-11zM190 77h11v3h-11zM190 135h11v3h-11zM201 77h11v3h-11zM201 129h11v3h-11zM212 117h12v3h-12zM224 120h11v3h-11zM235 120h11v3h-11zM269 123h11v3h-11zM280 132h12v3h-12zM292 120h11v3h-11zM303 77h11v3h-11zM337 120h11v3h-11zM348 117h11v3h-11zM371 129h11v3h-11zM382 77h11v3h-11zM382 132h11v3h-11zM393 126h12v3h-12zM405 77h11v3h-11zM416 123h11v3h-11zM427 77h11v3h-11zM450 77h11v3h-11zM461 77h11v3h-11zM472 120h12v3h-12zM484 123h11v3h-11zM495 126h11v3h-11zM518 77h11v3h-11zM518 135h11v3h-11zM529 77h11v3h-11zM540 77h12v3h-12zM540 135h12v3h-12zM552 77h11v3h-11zM552 135h11v3h-11zM563 123h11v3h-11zM574 123h11v3h-11zM597 77h11v3h-11zM608 77h11v3h-11zM608 132h11v3h-11zM619 120h12v3h-12zM631 77h11v3h-11zM631 135h11v3h-11zM642 120h11v3h-11zM664 120h12v3h-12zM676 77h11v3h-11zM676 129h11v3h-11zM698 77h12v3h-12zM721 77h11v3h-11zM721 132h11v3h-11zM744 77h11v3h-11zM755 117h11v3h-11zM766 77h12v3h-12zM766 129h12v3h-12zM800 123h11v3h-11zM811 123h12v3h-12zM823 123h11v3h-11zM834 120h11v3h-11zM868 77h11v3h-11zM868 129h11v3h-11zM879 123h11v3h-11zM890 77h12v3h-12zM890 132h12v3h-12zM902 77h11v3h-11zM902 126h11v3h-11zM913 77h11v3h-11zM913 129h11v3h-11zM924 117h12v3h-12z"/>
<path fill="#40ffbf" d="M156 117h11v3h-11zM156 253h11v3h-11zM167 77h12v3h-12zM167 132h12v3h-12zM167 253h12v3h-12zM179 77h11v3h-11zM179 129h11v3h-11zM179 256h11v3h-11zM190 253h11v3h-11zM201 253h11v3h-11zM212 77h12v3h-12zM212 253h12v3h-12zM224 77h11v3h-11zM224 117h11v3h-11zM224 253h11v3h-11zM235 77h11v3h-11zM235 253h11v3h-11zM246 77h12v3h-12zM246 120h12v3h-12zM246 253h12v3h-12zM258 77h11v3h-11zM258 120h11v3h-11zM269 77h11v3h-11zM269 120h11v3h-11zM269 253h11v3h-11zM280 77h12v3h-12zM280 129h12v3h-12zM280 253h12v3h-12zM292 77h11v3h-11zM303 126h11v3h-11zM303 253h11v3h-11zM314 77h12v3h-12zM314 117h12v3h-12zM326 77h11v3h-11zM326 120h11v3h-11zM337 77h11v3h-11zM348 77h11v3h-11zM348 253h11v3h-11zM359 77h12v3h-12zM359 126h12v3h-12zM359 253h12v3h-12zM371 77h11v3h-11zM371 126h11v3h-11zM371 253h11v3h-11zM382 253h11v3h-11zM393 77h12v3h-12zM393 253h12v3h-12zM405 132h11v3h-11zM405 253h11v3h-11zM416 77h11v3h-11zM416 120h11v3h-11zM427 132h11v3h-11zM427 253h11v3h-11zM438 77h12v3h-12zM438 117h12v3h-12zM450 132h11v3h-11zM450 253h11v3h-11zM461 129h11v3h-11zM461 253h11v3h-11zM472 77h12v3h-12zM472 253h12v3h-12zM484 77h11v3h-11zM495 77h11v3h-11zM495 123h11v3h-11zM506 77h12v3h-12zM506 123h12v3h-12zM518 132h11v3h-11zM518 253h11v3h-11zM529 135h11v3h-11zM529 253h11v3h-11zM540 253h12v3h-12zM552 132h11v3h-11zM552 253h11v3h-11zM563 77h11v3h-11zM574 77h11v3h-11zM585 77h12v3h-12zM585 120h12v3h-12zM585 253h12v3h-12zM597 132h11v3h-11zM597 253h11v3h-11zM608 253h11v3h-11zM619 77h12v3h-12zM619 253h12v3h-12zM631 132h11v3h-11zM631 253h11v3h-11zM642 77h11v3h-11zM653 77h11v3h-11zM653 120h11v3h-11zM664 77h12v3h-12zM664 117h12v3h-12zM676 253h11v3h-11zM687 77h11v3h-11zM687 114h11v3h-11zM687 253h11v3h-11zM698 126h12v3h-12zM698 253h12v3h-12zM710 77h11v3h-11zM710 253h11v3h-11zM721 253h11v3h-11zM732 77h12v3h-12zM732 114h12v3h-12zM732 253h12v3h-12zM744 132h11v3h-11zM744 253h11v3h-11zM755 77h11v3h-11zM755 253h11v3h-11zM766 253h12v3h-12zM778 77h11v3h-11zM778 114h11v3h-11zM778 253h11v3h-11zM789 77h11v3h-11zM789 120h11v3h-11zM789 253h11v3h-11zM800 77h11v3h-11zM800 120h11v3h-11zM811 77h12v3h-12zM811 120h12v3h-12zM823 77h11v3h-11zM834 77h11v3h-11zM834 117h11v3h-11zM834 253h11v3h-11zM845 77h12v3h-12zM845 120h12v3h-12zM857 77h11v3h-11zM857 120h11v3h-11zM868 253h11v3h-11zM879 77h11v3h-11zM879 120h11v3h-11zM879 253h11v3h-11zM890 129h12v3h-12zM890 253h12v3h-12zM902 253h11v3h-11zM913 253h11v3h-11zM924 77h12v3h-12zM924 253h12v3h-12z"/>
<path fill="#50ffaf" d="M156 80h11v3h-11zM156 114h11v3h-11zM156 256h11v3h-11zM167 129h12v3h-12zM167 256h12v3h-12zM179 259h11v4h-11zM190 132h11v3h-11zM190 256h11v3h-11zM201 126h11v3h-11zM201 256h11v3h-11zM212 114h12v3h-12zM212 256h12v3h-12zM224 256h11v3h-11zM235 117h11v3h-11zM235 256h11v3h-11zM246 117h12v3h-12zM246 256h12v3h-12zM258 117h11v3h-11zM269 256h11v3h-11zM280 256h12v3h-12zM292 117h11v3h-11zM303 256h11v3h-11zM326 117h11v3h-11zM337 117h11v3h-11zM348 114h11v3h-11zM348 256h11v3h-11zM359 256h12v3h-12zM371 256h11v3h-11zM382 129h11v3h-11zM382 256h11v3h-11zM393 123h12v3h-12zM393 256h12v3h-12zM405 129h11v3h-11zM405 256h11v3h-11zM427 129h11v3h-11zM427 256h11v3h-11zM450 129h11v3h-11zM450 256h11v3h-11zM461 256h11v3h-11zM472 117h12v3h-12zM484 120h11v3h-11zM495 120h11v3h-11zM506 120h12v3h-12zM518 256h11v3h-11zM529 132h11v3h-11zM529 256h11v3h-11zM540 132h12v3h-12zM540 256h12v3h-12zM552 256h11v3h-11zM563 120h11v3h-11zM574 120h11v3h-11zM585 117h12v3h-12zM585 256h12v3h-12zM597 129h11v3h-11zM597 256h11v3h-11zM608 129h11v3h-11zM608 256h11v3h-11zM619 117h12v3h-12zM619 256h12v3h-12zM631 256h11v3h-11zM642 117h11v3h-11zM653 117h11v3h-11zM676 126h11v3h-11zM676 256h11v3h-11zM687 256h11v3h-11zM698 256h12v3h-12zM710 114h11v3h-11zM721 129h11v3h-11zM721 256h11v3h-11zM732 256h12v3h-12zM744 129h11v3h-11zM744 256h11v3h-11zM755 114h11v3h-11zM755 256h11v3h-11zM766 126h12v3h-12zM766 256h12v3h-12zM778 256h11v3h-11zM789 117h11v3h-11zM823 120h11v3h-11zM868 126h11v3h-11zM868 256h11v3h-11zM879 256h11v3h-11zM890 256h12v3h-12zM902 123h11v3h-11zM902 256h11v3h-11zM913 126h11v3h-11zM913 256h11v3h-11zM924 114h12v3h-12zM924 256h12v3h-12z"/>
<path fill="#60ff9f" d="M156 259h11v4h-11zM179 126h11v3h-11zM179 263h11v3h-11zM190 129h11v3h-11zM201 259h11v4h-11zM212 259h12v4h-12zM224 114h11v3h-11zM224 259h11v4h-11zM235 259h11v4h-11zM246 259h12v4h-12zM269 117h11v3h-11zM269 259h11v4h-11zM280 126h12v3h-12zM280 259h12v4h-12zM292 114h11v3h-11zM303 123h11v3h-11zM303 259h11v4h-11zM337 114h11v3h-11zM348 111h11v3h-11zM348 259h11v4h-11zM359 123h12v3h-12zM359 259h12v4h-12zM371 123h11v3h-11zM371 259h11v4h-11zM382 126h11v3h-11zM382 259h11v4h-11zM393 259h12v4h-12zM405 259h11v4h-11zM416 117h11v3h-11zM427 259h11v4h-11zM438 114h12v3h-12zM450 259h11v4h-11zM461 126h11v3h-11zM461 259h11v4h-11zM484 117h11v3h-11zM518 129h11v3h-11zM518 259h11v4h-11zM529 259h11v4h-11zM540 129h12v3h-12zM540 259h12v4h-12zM552 129h11v3h-11zM552 259h11v4h-11zM574 117h11v3h-11zM597 259h11v4h-11zM608 259h11v4h-11zM631 129h11v3h-11zM631 259h11v4h-11zM664 114h12v3h-12zM676 259h11v4h-11zM687 111h11v3h-11zM698 123h12v3h-12zM698 259h12v4h-12zM721 259h11v4h-11zM732 111h12v3h-12zM732 259h12v4h-12zM744 259h11v4h-11zM755 259h11v4h-11zM766 259h12v4h-12zM778 111h11v3h-11zM778 259h11v4h-11zM800 117h11v3h-11zM811 117h12v3h-12zM823 117h11v3h-11zM834 114h11v3h-11zM845 117h12v3h-12zM857 117h11v3h-11zM868 123h11v3h-11zM868 259h11v4h-11zM879 117h11v3h-11zM879 259h11v4h-11zM890 126h12v3h-12zM890 259h12v4h-12zM902 259h11v4h-11zM913 259h11v4h-11z"/>
<path fill="#70ff8f" d="M156 111h11v3h-11zM156 263h11v3h-11zM167 126h12v3h-12zM167 259h12v4h-12zM179 266h11v3h-11zM190 259h11v4h-11zM201 123h11v3h-11zM201 263h11v3h-11zM212 111h12v3h-12zM212 263h12v3h-12zM224 263h11v3h-11zM235 114h11v3h-11zM235 263h11v3h-11zM246 114h12v3h-12zM246 263h12v3h-12zM258 114h11v3h-11zM269 263h11v3h-11zM280 123h12v3h-12zM280 263h12v3h-12zM303 263h11v3h-11zM314 114h12v3h-12zM326 114h11v3h-11zM348 263h11v3h-11zM359 263h12v3h-12zM371 263h11v3h-11zM382 263h11v3h-11zM393 120h12v3h-12zM393 263h12v3h-12zM405 126h11v3h-11zM405 263h11v3h-11zM427 126h11v3h-11zM427 263h11v3h-11zM450 126h11v3h-11zM450 263h11v3h-11zM461 263h11v3h-11zM472 114h12v3h-12zM495 117h11v3h-11zM506 117h12v3h-12zM518 126h11v3h-11zM518 263h11v3h-11zM529 129h11v3h-11zM529 263h11v3h-11zM540 263h12v3h-12zM552 126h11v3h-11zM552 263h11v3h-11zM563 117h11v3h-11zM585 114h12v3h-12zM597 126h11v3h-11zM597 263h11v3h-11zM608 126h11v3h-11zM608 263h11v3h-11zM619 114h12v3h-12zM631 126h11v3h-11zM631 263h11v3h-11zM642 114h11v3h-11zM653 114h11v3h-11zM676 123h11v3h-11zM676 263h11v3h-11zM698 263h12v3h-12zM710 111h11v3h-11zM721 126h11v3h-11zM721 263h11v3h-11zM732 263h12v3h-12zM744 126h11v3h-11zM744 263h11v3h-11zM755 263h11v3h-11zM766 123h12v3h-12zM766 263h12v3h-12zM778 263h11v3h-11zM789 114h11v3h-11zM868 263h11v3h-11zM879 263h11v3h-11zM890 263h12v3h-12zM902 120h11v3h-11zM902 263h11v3h-11zM913 123h11v3h-11zM913 263h11v3h-11zM924 111h12v3h-12z"/>
<path fill="#80ff80" d="M156 266h11v3h-11zM167 80h12v3h-12zM167 123h12v3h-12zM167 263h12v3h-12zM179 80h11v3h-11zM179 123h11v3h-11zM179 269h11v3h-11zM190 80h11v3h-11zM190 126h11v3h-11zM190 263h11v3h-11zM201 80h11v3h-11zM201 266h11v3h-11zM212 80h12v3h-12zM212 266h12v3h-12zM224 80h11v3h-11zM224 111h11v3h-11zM224 266h11v3h-11zM235 80h11v3h-11zM235 266h11v3h-11zM246 80h12v3h-12zM246 266h12v3h-12zM258 80h11v3h-11zM269 80h11v3h-11zM269 114h11v3h-11zM269 266h11v3h-11zM280 80h12v3h-12zM280 266h12v3h-12zM292 80h11v3h-11zM292 111h11v3h-11zM303 80h11v3h-11zM303 120h11v3h-11zM303 266h11v3h-11zM314 80h12v3h-12zM326 80h11v3h-11zM337 80h11v3h-11zM337 111h11v3h-11zM348 80h11v3h-11zM348 108h11v3h-11zM348 266h11v3h-11zM359 80h12v3h-12zM359 120h12v3h-12zM359 266h12v3h-12zM371 80h11v3h-11zM371 120h11v3h-11zM371 266h11v3h-11zM382 80h11v3h-11zM382 123h11v3h-11zM382 266h11v3h-11zM393 80h12v3h-12zM393 266h12v3h-12zM405 80h11v3h-11zM405 266h11v3h-11zM416 80h11v3h-11zM416 114h11v3h-11zM427 80h11v3h-11zM427 266h11v3h-11zM438 80h12v3h-12zM438 111h12v3h-12zM450 80h11v3h-11zM450 266h11v3h-11zM461 80h11v3h-11zM461 123h11v3h-11zM461 266h11v3h-11zM472 80h12v3h-12zM484 80h11v3h-11zM484 114h11v3h-11zM495 80h11v3h-11zM495 114h11v3h-11zM506 80h12v3h-12zM518 80h11v3h-11zM518 266h11v3h-11zM529 80h11v3h-11zM529 126h11v3h-11zM529 266h11v3h-11zM540 80h12v3h-12zM540 126h12v3h-12zM540 266h12v3h-12zM552 80h11v3h-11zM552 266h11v3h-11zM563 80h11v3h-11zM574 80h11v3h-11zM574 114h11v3h-11zM585 80h12v3h-12zM597 80h11v3h-11zM597 266h11v3h-11zM608 80h11v3h-11zM608 123h11v3h-11zM608 266h11v3h-11zM619 80h12v3h-12zM631 80h11v3h-11zM631 266h11v3h-11zM642 80h11v3h-11zM653 80h11v3h-11zM664 80h12v3h-12zM676 80h11v3h-11zM676 266h11v3h-11zM687 80h11v3h-11zM698 80h12v3h-12zM698 120h12v3h-12zM698 266h12v3h-12zM710 80h11v3h-11zM721 80h11v3h-11zM721 266h11v3h-11zM732 80h12v3h-12zM744 80h11v3h-11zM744 266h11v3h-11zM755 80h11v3h-11zM755 111h11v3h-11zM766 80h12v3h-12zM766 266h12v3h-12zM778 80h11v3h-11zM778 266h11v3h-11zM789 80h11v3h-11zM800 80h11v3h-11zM800 114h11v3h-11zM811 80h12v3h-12zM811 114h12v3h-12zM823 80h11v3h-11zM834 80h11v3h-11zM845 80h12v3h-12zM845 114h12v3h-12zM857 80h11v3h-11zM857 114h11v3h-11zM868 80h11v3h-11zM868 120h11v3h-11zM868 266h11v3h-11zM879 80h11v3h-11zM879 114h11v3h-11zM879 266h11v3h-11zM890 80h12v3h-12zM890 123h12v3h-12zM890 266h12v3h-12zM902 80h11v3h-11zM902 266h11v3h-11zM913 80h11v3h-11zM913 266h11v3h-11zM924 80h12v3h-12z"/>
<path fill="#8fff70" d="M156 83h11v3h-11zM156 108h11v3h-11zM156 269h11v3h-11zM167 266h12v3h-12zM179 272h11v6h-11zM190 266h11v3h-11zM201 269h11v3h-11zM212 108h12v3h-12zM212 269h12v3h-12zM224 269h11v3h-11zM235 111h11v3h-11zM235 269h11v3h-11zM246 111h12v3h-12zM246 269h12v3h-12zM258 111h11v3h-11zM269 269h11v3h-11zM280 120h12v3h-12zM280 269h12v3h-12zM303 269h11v3h-11zM326 111h11v3h-11zM348 269h11v3h-11zM359 269h12v3h-12zM371 269h11v3h-11zM382 269h11v3h-11zM393 117h12v3h-12zM393 269h12v3h-12zM405 123h11v3h-11zM405 269h11v3h-11zM427 123h11v3h-11zM427 269h11v3h-11zM450 123h11v3h-11zM450 269h11v3h-11zM461 269h11v3h-11zM472 111h12v3h-12zM506 114h12v3h-12zM518 123h11v3h-11zM518 269h11v3h-11zM529 269h11v3h-11zM540 269h12v3h-12zM552 123h11v3h-11zM552 269h11v3h-11zM563 114h11v3h-11zM597 123h11v3h-11zM597 269h11v3h-11zM608 269h11v3h-11zM619 111h12v3h-12zM631 123h11v3h-11zM631 269h11v3h-11zM664 111h12v3h-12zM676 120h11v3h-11zM676 269h11v3h-11zM687 108h11v3h-11zM698 269h12v3h-12zM721 123h11v3h-11zM721 269h11v3h-11zM732 108h12v3h-12zM744 123h11v3h-11zM744 269h11v3h-11zM766 120h12v3h-12zM766 269h12v3h-12zM778 108h11v3h-11zM778 269h11v3h-11zM823 114h11v3h-11zM834 111h11v3h-11zM868 269h11v3h-11zM879 269h11v3h-11zM890 269h12v3h-12zM902 117h11v3h-11zM902 269h11v3h-11zM913 120h11v3h-11zM913 269h11v3h-11zM924 108h12v3h-12z"/>
<path fill="#9fff60" d="M156 272h11v3h-11zM167 120h12v3h-12zM167 269h12v3h-12zM179 120h11v3h-11zM179 278h11v3h-11zM190 123h11v3h-11zM190 269h11v3h-11zM201 120h11v3h-11zM201 272h11v3h-11zM212 272h12v3h-12zM224 108h11v3h-11zM224 272h11v3h-11zM235 272h11v3h-11zM246 272h12v3h-12zM269 111h11v3h-11zM269 272h11v3h-11zM280 272h12v3h-12zM292 108h11v3h-11zM303 272h11v3h-11zM314 111h12v3h-12zM348 272h11v3h-11zM359 117h12v3h-12zM359 272h12v3h-12zM371 117h11v3h-11zM371 272h11v3h-11zM382 120h11v3h-11zM382 272h11v3h-11zM393 272h12v3h-12zM405 120h11v3h-11zM405 272h11v3h-11zM416 111h11v3h-11zM427 120h11v3h-11zM427 272h11v3h-11zM438 108h12v3h-12zM450 120h11v3h-11zM450 272h11v3h-11zM461 120h11v3h-11zM461 272h11v3h-11zM484 111h11v3h-11zM495 111h11v3h-11zM518 272h11v3h-11zM529 123h11v3h-11zM529 272h11v3h-11zM540 123h12v3h-12zM540 272h12v3h-12zM552 272h11v3h-11zM574 111h11v3h-11zM585 111h12v3h-12zM597 120h11v3h-11zM597 272h11v3h-11zM608 120h11v3h-11zM608 272h11v3h-11zM631 272h11v3h-11zM642 111h11v3h-11zM653 111h11v3h-11zM676 272h11v3h-11zM698 272h12v3h-12zM710 108h11v3h-11zM721 120h11v3h-11zM721 272h11v3h-11zM744 120h11v3h-11zM744 272h11v3h-11zM766 272h12v3h-12zM778 272h11v3h-11zM789 111h11v3h-11zM800 111h11v3h-11zM845 111h12v3h-12zM857 111h11v3h-11zM868 117h11v3h-11zM868 272h11v3h-11zM879 272h11v3h-11zM890 120h12v3h-12zM890 272h12v3h-12zM902 272h11v3h-11zM913 272h11v3h-11z"/>
<path fill="#afff50" d="M156 104h11v4h-11zM156 275h11v3h-11zM167 272h12v3h-12zM179 281h11v3h-11zM190 120h11v3h-11zM190 272h11v3h-11zM201 275h11v3h-11zM212 83h12v3h-12zM212 104h12v4h-12zM212 275h12v3h-12zM224 275h11v3h-11zM235 108h11v3h-11zM235 275h11v3h-11zM246 83h12v3h-12zM258 83h11v3h-11zM280 117h12v3h-12zM280 275h12v3h-12zM303 117h11v3h-11zM303 275h11v3h-11zM326 108h11v3h-11zM337 108h11v3h-11zM348 83h11v3h-11zM348 104h11v4h-11zM348 275h11v3h-11zM359 275h12v3h-12zM371 275h11v3h-11zM382 117h11v3h-11zM382 275h11v3h-11zM393 114h12v3h-12zM393 275h12v3h-12zM405 275h11v3h-11zM427 275h11v3h-11zM450 275h11v3h-11zM461 275h11v3h-11zM506 111h12v3h-12zM518 120h11v3h-11zM518 275h11v3h-11zM529 120h11v3h-11zM529 275h11v3h-11zM540 275h12v3h-12zM552 120h11v3h-11zM552 275h11v3h-11zM563 111h11v3h-11zM597 275h11v3h-11zM608 275h11v3h-11zM631 120h11v3h-11zM631 275h11v3h-11zM676 117h11v3h-11zM676 275h11v3h-11zM698 117h12v3h-12zM698 275h12v3h-12zM721 275h11v3h-11zM744 275h11v3h-11zM755 108h11v3h-11zM778 275h11v3h-11zM811 111h12v3h-12zM823 111h11v3h-11zM868 275h11v3h-11zM879 111h11v3h-11zM879 275h11v3h-11zM890 275h12v3h-12zM902 114h11v3h-11zM902 275h11v3h-11zM913 117h11v3h-11zM913 275h11v3h-11z"/>
<path fill="#bfff40" d="M156 278h11v3h-11zM167 83h12v3h-12zM167 117h12v3h-12zM167 275h12v3h-12zM179 83h11v3h-11zM179 117h11v3h-11zM179 284h11v3h-11zM190 83h11v3h-11zM190 275h11v3h-11zM201 83h11v3h-11zM201 117h11v3h-11zM201 278h11v3h-11zM212 278h12v3h-12zM224 83h11v3h-11zM235 83h11v3h-11zM235 278h11v3h-11zM246 108h12v3h-12zM258 108h11v3h-11zM269 83h11v3h-11zM269 108h11v3h-11zM280 83h12v3h-12zM280 278h12v3h-12zM292 83h11v3h-11zM303 83h11v3h-11zM303 278h11v3h-11zM314 83h12v3h-12zM326 83h11v3h-11zM337 83h11v3h-11zM348 278h11v3h-11zM359 83h12v3h-12zM359 114h12v3h-12zM359 278h12v3h-12zM371 83h11v3h-11zM371 114h11v3h-11zM371 278h11v3h-11zM382 83h11v3h-11zM382 278h11v3h-11zM393 83h12v3h-12zM393 278h12v3h-12zM405 83h11v3h-11zM405 117h11v3h-11zM405 278h11v3h-11zM416 83h11v3h-11zM416 108h11v3h-11zM427 83h11v3h-11zM427 117h11v3h-11zM427 278h11v3h-11zM438 83h12v3h-12zM450 83h11v3h-11zM450 117h11v3h-11zM450 278h11v3h-11zM461 83h11v3h-11zM461 117h11v3h-11zM461 278h11v3h-11zM472 83h12v3h-12zM472 108h12v3h-12zM484 83h11v3h-11zM484 108h11v3h-11zM495 83h11v3h-11zM495 108h11v3h-11zM506 83h12v3h-12zM518 83h11v3h-11zM518 117h11v3h-11zM518 278h11v3h-11zM529 83h11v3h-11zM529 278h11v3h-11zM540 83h12v3h-12zM540 120h12v3h-12zM540 278h12v3h-12zM552 83h11v3h-11zM552 117h11v3h-11zM563 83h11v3h-11zM574 83h11v3h-11zM585 83h12v3h-12zM585 108h12v3h-12zM597 83h11v3h-11zM597 117h11v3h-11zM597 278h11v3h-11zM608 83h11v3h-11zM608 117h11v3h-11zM608 278h11v3h-11zM619 83h12v3h-12zM619 108h12v3h-12zM631 83h11v3h-11zM631 117h11v3h-11zM631 278h11v3h-11zM642 83h11v3h-11zM642 108h11v3h-11zM653 83h11v3h-11zM653 108h11v3h-11zM664 83h12v3h-12zM664 108h12v3h-12zM676 83h11v3h-11zM676 278h11v3h-11zM687 83h11v3h-11zM687 104h11v4h-11zM698 83h12v3h-12zM698 278h12v3h-12zM710 83h11v3h-11zM721 83h11v3h-11zM721 117h11v3h-11zM721 278h11v3h-11zM732 83h12v3h-12zM732 104h12v4h-12zM744 83h11v3h-11zM744 117h11v3h-11zM755 83h11v3h-11zM766 83h12v3h-12zM766 117h12v3h-12zM778 83h11v3h-11zM778 104h11v4h-11zM778 278h11v3h-11zM789 83h11v3h-11zM789 108h11v3h-11zM800 83h11v3h-11zM811 83h12v3h-12zM823 83h11v3h-11zM834 83h11v3h-11zM834 108h11v3h-11zM845 83h12v3h-12zM857 83h11v3h-11zM868 83h11v3h-11zM868 114h11v3h-11zM868 278h11v3h-11zM879 83h11v3h-11zM879 278h11v3h-11zM890 83h12v3h-12zM890 117h12v3h-12zM890 278h12v3h-12zM902 83h11v3h-11zM902 278h11v3h-11zM913 83h11v3h-11zM913 278h11v3h-11zM924 83h12v3h-12zM924 104h12v4h-12z"/>
<path fill="#cfff30" d="M156 86h11v3h-11zM156 101h11v3h-11zM167 114h12v3h-12zM167 278h12v3h-12zM179 287h11v3h-11zM190 117h11v3h-11zM190 278h11v3h-11zM201 281h11v3h-11zM212 101h12v3h-12zM212 281h12v3h-12zM224 104h11v4h-11zM235 281h11v3h-11zM280 114h12v3h-12zM280 281h12v3h-12zM292 104h11v4h-11zM303 114h11v3h-11zM303 281h11v3h-11zM314 108h12v3h-12zM326 104h11v4h-11zM337 104h11v4h-11zM348 101h11v3h-11zM348 281h11v3h-11zM359 281h12v3h-12zM371 281h11v3h-11zM382 114h11v3h-11zM382 281h11v3h-11zM393 281h12v3h-12zM405 281h11v3h-11zM427 281h11v3h-11zM438 104h12v4h-12zM461 281h11v3h-11zM506 108h12v3h-12zM518 281h11v3h-11zM529 117h11v3h-11zM529 281h11v3h-11zM540 117h12v3h-12zM540 281h12v3h-12zM563 108h11v3h-11zM574 108h11v3h-11zM608 281h11v3h-11zM710 104h11v4h-11zM778 281h11v3h-11zM800 108h11v3h-11zM811 108h12v3h-12zM823 108h11v3h-11zM845 108h12v3h-12zM857 108h11v3h-11zM868 281h11v3h-11zM890 281h12v3h-12zM913 114h11v3h-11z"/>
<path fill="#dfff20" d="M167 281h12v3h-12zM179 114h11v3h-11zM190 281h11v3h-11zM201 114h11v3h-11zM212 86h12v3h-12zM212 284h12v3h-12zM235 104h11v4h-11zM235 284h11v3h-11zM246 104h12v4h-12zM258 104h11v4h-11zM269 104h11v4h-11zM280 284h12v3h-12zM303 284h11v3h-11zM348 284h11v3h-11zM359 111h12v3h-12zM359 284h12v3h-12zM371 284h11v3h-11zM382 284h11v3h-11zM393 111h12v3h-12zM393 284h12v3h-12zM405 114h11v3h-11zM427 114h11v3h-11zM427 284h11v3h-11zM450 114h11v3h-11zM461 114h11v3h-11zM484 104h11v4h-11zM518 114h11v3h-11zM529 284h11v3h-11zM552 114h11v3h-11zM597 114h11v3h-11zM608 114h11v3h-11zM608 284h11v3h-11zM631 114h11v3h-11zM676 114h11v3h-11zM698 114h12v3h-12zM744 114h11v3h-11zM766 114h12v3h-12zM868 111h11v3h-11zM879 108h11v3h-11zM890 114h12v3h-12zM890 284h12v3h-12zM902 111h11v3h-11z"/>
<path fill="#efff10" d="M167 111h12v3h-12zM167 284h12v3h-12zM179 290h11v3h-11zM190 114h11v3h-11zM190 284h11v3h-11zM212 287h12v3h-12zM224 86h11v3h-11zM224 101h11v3h-11zM235 86h11v3h-11zM235 287h11v3h-11zM246 86h12v3h-12zM258 86h11v3h-11zM269 86h11v3h-11zM280 111h12v3h-12zM292 86h11v3h-11zM292 101h11v3h-11zM314 86h12v3h-12zM326 86h11v3h-11zM326 101h11v3h-11zM337 86h11v3h-11zM348 86h11v3h-11zM348 287h11v3h-11zM359 287h12v3h-12zM371 111h11v3h-11zM371 287h11v3h-11zM382 111h11v3h-11zM393 287h12v3h-12zM416 86h11v3h-11zM416 104h11v4h-11zM438 86h12v3h-12zM472 86h12v3h-12zM472 104h12v4h-12zM484 86h11v3h-11zM495 86h11v3h-11zM495 104h11v4h-11zM506 86h12v3h-12zM506 104h12v4h-12zM529 114h11v3h-11zM540 114h12v3h-12zM563 86h11v3h-11zM563 104h11v4h-11zM574 86h11v3h-11zM574 104h11v4h-11zM585 86h12v3h-12zM585 104h12v4h-12zM608 287h11v3h-11zM619 86h12v3h-12zM619 104h12v4h-12zM642 86h11v3h-11zM642 104h11v4h-11zM653 86h11v3h-11zM653 104h11v4h-11zM664 86h12v3h-12zM664 104h12v4h-12zM687 86h11v3h-11zM687 101h11v3h-11zM710 86h11v3h-11zM721 114h11v3h-11zM732 86h12v3h-12zM755 86h11v3h-11zM755 104h11v4h-11zM778 86h11v3h-11zM789 86h11v3h-11zM789 104h11v4h-11zM800 86h11v3h-11zM811 86h12v3h-12zM823 86h11v3h-11zM834 86h11v3h-11zM834 104h11v4h-11zM845 86h12v3h-12zM845 104h12v4h-12zM857 86h11v3h-11zM857 104h11v4h-11zM924 86h12v3h-12zM924 101h12v3h-12z"/>
<path fill="#ffff00" d="M156 98h11v3h-11zM167 86h12v3h-12zM167 287h12v3h-12zM179 86h11v3h-11zM179 111h11v3h-11zM179 293h11v3h-11zM190 86h11v3h-11zM190 287h11v3h-11zM201 86h11v3h-11zM212 290h12v3h-12zM235 290h11v3h-11zM280 86h12v3h-12zM303 86h11v3h-11zM303 111h11v3h-11zM314 104h12v4h-12zM337 101h11v3h-11zM359 86h12v3h-12zM359 290h12v3h-12zM371 86h11v3h-11zM371 290h11v3h-11zM382 86h11v3h-11zM393 86h12v3h-12zM393 108h12v3h-12zM405 86h11v3h-11zM405 111h11v3h-11zM427 86h11v3h-11zM427 111h11v3h-11zM438 101h12v3h-12zM450 111h11v3h-11zM461 111h11v3h-11zM518 86h11v3h-11zM518 111h11v3h-11zM552 111h11v3h-11zM597 111h11v3h-11zM608 111h11v3h-11zM608 290h11v3h-11zM631 111h11v3h-11zM676 86h11v3h-11zM676 111h11v3h-11zM698 111h12v3h-12zM710 101h11v3h-11zM732 101h12v3h-12zM744 111h11v3h-11zM766 111h12v3h-12zM778 101h11v3h-11zM800 104h11v4h-11zM811 104h12v4h-12zM823 104h11v4h-11zM868 86h11v3h-11zM879 86h11v3h-11zM890 86h12v3h-12zM890 111h12v3h-12zM913 86h11v3h-11zM913 111h11v3h-11z"/>
<path fill="#ffef00" d="M156 89h11v3h-11zM167 108h12v3h-12zM167 290h12v3h-12zM179 296h11v3h-11zM190 290h11v3h-11zM201 111h11v3h-11zM212 89h12v3h-12zM212 98h12v3h-12zM235 101h11v3h-11zM246 89h12v3h-12zM246 101h12v3h-12zM258 89h11v3h-11zM258 101h11v3h-11zM269 101h11v3h-11zM280 108h12v3h-12zM348 89h11v3h-11zM359 108h12v3h-12zM371 108h11v3h-11zM450 86h11v3h-11zM461 86h11v3h-11zM484 101h11v3h-11zM495 101h11v3h-11zM529 86h11v3h-11zM540 86h12v3h-12zM552 86h11v3h-11zM597 86h11v3h-11zM608 86h11v3h-11zM631 86h11v3h-11zM698 86h12v3h-12zM721 86h11v3h-11zM721 111h11v3h-11zM744 86h11v3h-11zM766 86h12v3h-12zM868 108h11v3h-11zM879 104h11v4h-11zM902 86h11v3h-11zM902 108h11v3h-11z"/>
<path fill="#ffdf00" d="M156 95h11v3h-11zM167 293h12v3h-12zM179 108h11v3h-11zM179 299h11v3h-11zM190 111h11v3h-11zM190 293h11v3h-11zM212 92h12v6h-12zM212 293h12v3h-12zM224 89h11v3h-11zM224 98h11v3h-11zM235 293h11v3h-11zM246 92h12v3h-12zM246 98h12v3h-12zM258 92h11v3h-11zM258 98h11v3h-11zM269 89h11v3h-11zM269 98h11v3h-11zM292 89h11v3h-11zM326 89h11v3h-11zM326 98h11v3h-11zM337 89h11v3h-11zM348 92h11v3h-11zM348 98h11v3h-11zM359 293h12v3h-12zM371 293h11v3h-11zM382 108h11v3h-11zM416 89h11v3h-11zM416 101h11v3h-11zM438 89h12v3h-12zM472 101h12v3h-12zM484 89h11v3h-11zM495 89h11v3h-11zM506 89h12v3h-12zM506 101h12v3h-12zM529 111h11v3h-11zM540 111h12v3h-12zM563 89h11v3h-11zM563 101h11v3h-11zM574 89h11v3h-11zM574 101h11v3h-11zM619 101h12v3h-12zM642 89h11v3h-11zM642 101h11v3h-11zM653 89h11v3h-11zM653 101h11v3h-11zM664 89h12v3h-12zM664 101h12v3h-12zM710 89h11v3h-11zM732 89h12v3h-12zM755 101h11v3h-11zM778 89h11v3h-11zM789 89h11v3h-11zM789 101h11v3h-11zM800 89h11v3h-11zM800 101h11v3h-11zM811 89h12v3h-12zM811 101h12v3h-12zM834 101h11v3h-11zM890 108h12v3h-12zM913 108h11v3h-11zM924 89h12v3h-12zM924 98h12v3h-12z"/>
<path fill="#ffcf00" d="M156 92h11v3h-11zM167 89h12v3h-12zM167 104h12v4h-12zM179 302h11v3h-11zM212 296h12v3h-12zM224 92h11v6h-11zM235 89h11v3h-11zM235 296h11v3h-11zM246 95h12v3h-12zM258 95h11v3h-11zM269 92h11v6h-11zM280 89h12v3h-12zM280 104h12v4h-12zM292 92h11v3h-11zM292 98h11v3h-11zM303 108h11v3h-11zM314 89h12v3h-12zM314 101h12v3h-12zM326 92h11v6h-11zM337 98h11v3h-11zM348 95h11v3h-11zM359 89h12v3h-12zM359 104h12v4h-12zM359 296h12v3h-12zM371 89h11v3h-11zM371 104h11v4h-11zM371 296h11v3h-11zM393 89h12v3h-12zM393 104h12v4h-12zM405 108h11v3h-11zM416 98h11v3h-11zM427 108h11v3h-11zM438 92h12v3h-12zM438 98h12v3h-12zM472 89h12v3h-12zM484 92h11v3h-11zM484 98h11v3h-11zM495 98h11v3h-11zM506 98h12v3h-12zM518 108h11v3h-11zM563 98h11v3h-11zM574 92h11v3h-11zM574 98h11v3h-11zM585 89h12v3h-12zM585 101h12v3h-12zM619 89h12v3h-12zM642 98h11v3h-11zM653 98h11v3h-11zM664 92h12v3h-12zM664 98h12v3h-12zM676 108h11v3h-11zM687 89h11v3h-11zM710 98h11v3h-11zM732 92h12v3h-12zM732 98h12v3h-12zM755 89h11v3h-11zM778 98h11v3h-11zM789 98h11v3h-11zM800 92h11v3h-11zM800 98h11v3h-11zM811 98h12v3h-12zM823 89h11v3h-11zM823 101h11v3h-11zM834 89h11v3h-11zM845 89h12v3h-12zM845 101h12v3h-12zM857 89h11v3h-11zM857 101h11v3h-11zM924 92h12v6h-12z"/>
<path fill="#ffbf00" d="M167 296h12v3h-12zM179 89h11v3h-11zM179 104h11v4h-11zM179 305h11v3h-11zM190 108h11v3h-11zM190 296h11v3h-11zM201 108h11v3h-11zM212 299h12v3h-12zM235 92h11v3h-11zM235 98h11v3h-11zM235 299h11v3h-11zM292 95h11v3h-11zM337 92h11v6h-11zM359 299h12v3h-12zM371 299h11v3h-11zM416 92h11v6h-11zM438 95h12v3h-12zM450 108h11v3h-11zM461 108h11v3h-11zM472 92h12v3h-12zM472 98h12v3h-12zM484 95h11v3h-11zM495 92h11v6h-11zM506 92h12v6h-12zM529 108h11v3h-11zM552 108h11v3h-11zM563 92h11v6h-11zM574 95h11v3h-11zM585 92h12v3h-12zM585 98h12v3h-12zM597 108h11v3h-11zM608 108h11v3h-11zM619 92h12v3h-12zM619 98h12v3h-12zM631 108h11v3h-11zM642 92h11v6h-11zM653 92h11v6h-11zM664 95h12v3h-12zM687 92h11v3h-11zM687 98h11v3h-11zM698 108h12v3h-12zM710 92h11v6h-11zM721 108h11v3h-11zM732 95h12v3h-12zM744 108h11v3h-11zM755 92h11v3h-11zM755 98h11v3h-11zM766 108h12v3h-12zM778 92h11v6h-11zM789 92h11v6h-11zM800 95h11v3h-11zM811 92h12v6h-12zM823 92h11v3h-11zM823 98h11v3h-11zM834 92h11v3h-11zM834 98h11v3h-11zM845 92h12v3h-12zM845 98h12v3h-12zM857 92h11v3h-11zM857 98h11v3h-11zM868 89h11v3h-11zM868 104h11v4h-11zM879 89h11v3h-11zM913 89h11v3h-11zM913 104h11v4h-11z"/>
<path fill="#ffaf00" d="M167 92h12v3h-12zM167 98h12v6h-12zM167 299h12v3h-12zM179 92h11v3h-11zM179 101h11v3h-11zM179 308h11v3h-11zM190 89h11v3h-11zM190 299h11v3h-11zM201 89h11v3h-11zM235 95h11v3h-11zM280 92h12v3h-12zM280 98h12v6h-12zM303 89h11v3h-11zM303 104h11v4h-11zM314 92h12v9h-12zM359 92h12v3h-12zM359 98h12v6h-12zM359 302h12v3h-12zM371 92h11v3h-11zM371 101h11v3h-11zM382 89h11v3h-11zM382 104h11v4h-11zM393 92h12v3h-12zM393 101h12v3h-12zM405 89h11v3h-11zM427 89h11v3h-11zM427 104h11v4h-11zM450 89h11v3h-11zM472 95h12v3h-12zM518 89h11v3h-11zM518 104h11v4h-11zM529 89h11v3h-11zM540 89h12v3h-12zM540 108h12v3h-12zM552 89h11v3h-11zM585 95h12v3h-12zM608 89h11v3h-11zM619 95h12v3h-12zM631 89h11v3h-11zM676 89h11v3h-11zM687 95h11v3h-11zM698 89h12v3h-12zM755 95h11v3h-11zM823 95h11v3h-11zM834 95h11v3h-11zM845 95h12v3h-12zM857 95h11v3h-11zM879 101h11v3h-11zM890 89h12v3h-12zM890 104h12v4h-12zM902 89h11v3h-11zM902 104h11v4h-11z"/>
<path fill="#ff9f00" d="M167 95h12v3h-12zM167 302h12v3h-12zM179 95h11v6h-11zM190 104h11v4h-11zM190 302h11v3h-11zM201 104h11v4h-11zM280 95h12v3h-12zM303 92h11v3h-11zM359 95h12v3h-12zM359 305h12v3h-12zM371 95h11v6h-11zM382 92h11v3h-11zM393 95h12v6h-12zM405 104h11v4h-11zM427 92h11v3h-11zM450 104h11v4h-11zM461 89h11v3h-11zM529 104h11v4h-11zM552 104h11v4h-11zM597 89h11v3h-11zM608 104h11v4h-11zM631 104h11v4h-11zM676 104h11v4h-11zM698 104h12v4h-12zM721 89h11v3h-11zM744 89h11v3h-11zM766 89h12v3h-12zM868 92h11v3h-11zM868 101h11v3h-11zM879 92h11v3h-11zM879 98h11v3h-11zM890 92h12v3h-12zM913 92h11v3h-11zM913 101h11v3h-11z"/>
<path fill="#ff8f00" d="M167 305h12v6h-12zM190 92h11v3h-11zM190 305h11v3h-11zM201 92h11v3h-11zM201 101h11v3h-11zM303 101h11v3h-11zM382 101h11v3h-11zM405 92h11v3h-11zM405 101h11v3h-11zM427 101h11v3h-11zM450 92h11v3h-11zM461 104h11v4h-11zM518 92h11v3h-11zM518 101h11v3h-11zM529 92h11v3h-11zM540 92h12v3h-12zM540 104h12v4h-12zM552 92h11v3h-11zM597 104h11v4h-11zM608 92h11v3h-11zM631 92h11v3h-11zM676 92h11v3h-11zM676 101h11v3h-11zM698 92h12v3h-12zM721 104h11v4h-11zM744 104h11v4h-11zM766 104h12v4h-12zM868 95h11v6h-11zM879 95h11v3h-11zM890 101h12v3h-12zM902 92h11v3h-11zM913 95h11v6h-11z"/>
<path fill="#ff8000" d="M167 311h12v6h-12zM190 95h11v9h-11zM201 95h11v6h-11zM303 95h11v6h-11zM382 95h11v6h-11zM405 95h11v6h-11zM427 95h11v6h-11zM450 101h11v3h-11zM461 92h11v3h-11zM518 95h11v6h-11zM529 101h11v3h-11zM540 101h12v3h-12zM552 101h11v3h-11zM597 92h11v3h-11zM608 101h11v3h-11zM631 101h11v3h-11zM676 95h11v6h-11zM698 101h12v3h-12zM721 92h11v3h-11zM766 92h12v3h-12zM890 95h12v6h-12zM902 101h11v3h-11z"/>
<path fill="#ff7000" d="M450 95h11v6h-11zM461 95h11v3h-11zM461 101h11v3h-11zM529 95h11v6h-11zM540 95h12v6h-12zM552 95h11v6h-11zM597 101h11v3h-11zM608 95h11v6h-11zM631 95h11v6h-11zM698 95h12v6h-12zM721 101h11v3h-11zM744 92h11v3h-11zM766 95h12v3h-12zM766 101h12v3h-12zM902 95h11v6h-11z"/>
<path fill="#ff6000" d="M461 98h11v3h-11zM597 95h11v6h-11zM721 95h11v6h-11zM744 101h11v3h-11zM766 98h12v3h-12z"/>
<path fill="#ff5000" d="M744 95h11v6h-11z"/>
<path fill="#fff" d="M159.2 273.0L163.8 273.0L168.0 277.2L168.0 281.8L163.8 286.0L159.2 286.0L155.0 281.8L155.0 277.2zM170.2 309.0L174.8 309.0L179.0 313.2L179.0 317.8L174.8 322.0L170.2 322.0L166.0 317.8L166.0 313.2zM182.2 303.0L186.8 303.0L191.0 307.2L191.0 311.8L186.8 316.0L182.2 316.0L178.0 311.8L178.0 307.2zM193.2 300.0L197.8 300.0L202.0 304.2L202.0 308.8L197.8 313.0L193.2 313.0L189.0 308.8L189.0 304.2zM204.2 276.0L208.8 276.0L213.0 280.2L213.0 284.8L208.8 289.0L204.2 289.0L200.0 284.8L200.0 280.2zM216.2 294.0L220.8 294.0L225.0 298.2L225.0 302.8L220.8 307.0L216.2 307.0L212.0 302.8L212.0 298.2zM227.2 236.0L231.8 236.0L236.0 240.2L236.0 244.8L231.8 249.0L227.2 249.0L223.0 244.8L223.0 240.2zM238.2 294.0L242.8 294.0L247.0 298.2L247.0 302.8L242.8 307.0L238.2 307.0L234.0 302.8L234.0 298.2zM250.2 236.0L254.8 236.0L259.0 240.2L259.0 244.8L254.8 249.0L250.2 249.0L246.0 244.8L246.0 240.2zM261.2 239.0L265.8 239.0L270.0 243.2L270.0 247.8L265.8 252.0L261.2 252.0L257.0 247.8L257.0 243.2zM272.2 227.0L276.8 227.0L281.0 231.2L281.0 235.8L276.8 240.0L272.2 240.0L268.0 235.8L268.0 231.2zM283.2 279.0L287.8 279.0L292.0 283.2L292.0 287.8L287.8 292.0L283.2 292.0L279.0 287.8L279.0 283.2zM295.2 239.0L299.8 239.0L304.0 243.2L304.0 247.8L299.8 252.0L295.2 252.0L291.0 247.8L291.0 243.2zM306.2 279.0L310.8 279.0L315.0 283.2L315.0 287.8L310.8 292.0L306.2 292.0L302.0 287.8L302.0 283.2zM317.2 245.0L321.8 245.0L326.0 249.2L326.0 253.8L321.8 258.0L317.2 258.0L313.0 253.8L313.0 249.2zM329.2 236.0L333.8 236.0L338.0 240.2L338.0 244.8L333.8 249.0L329.2 249.0L325.0 244.8L325.0 240.2zM340.2 239.0L344.8 239.0L349.0 243.2L349.0 247.8L344.8 252.0L340.2 252.0L336.0 247.8L336.0 243.2zM351.2 282.0L355.8 282.0L360.0 286.2L360.0 290.8L355.8 295.0L351.2 295.0L347.0 290.8L347.0 286.2zM363.2 300.0L367.8 300.0L372.0 304.2L372.0 308.8L367.8 313.0L363.2 313.0L359.0 308.8L359.0 304.2zM374.2 294.0L378.8 294.0L383.0 298.2L383.0 302.8L378.8 307.0L374.2 307.0L370.0 302.8L370.0 298.2zM385.2 279.0L389.8 279.0L394.0 283.2L394.0 287.8L389.8 292.0L385.2 292.0L381.0 287.8L381.0 283.2zM396.2 282.0L400.8 282.0L405.0 286.2L405.0 290.8L400.8 295.0L396.2 295.0L392.0 290.8L392.0 286.2zM408.2 276.0L412.8 276.0L417.0 280.2L417.0 284.8L412.8 289.0L408.2 289.0L404.0 284.8L404.0 280.2zM419.2 236.0L423.8 236.0L428.0 240.2L428.0 244.8L423.8 249.0L419.2 249.0L415.0 244.8L415.0 240.2zM430.2 279.0L434.8 279.0L439.0 283.2L439.0 287.8L434.8 292.0L430.2 292.0L426.0 287.8L426.0 283.2zM442.2 245.0L446.8 245.0L451.0 249.2L451.0 253.8L446.8 258.0L442.2 258.0L438.0 253.8L438.0 249.2zM453.2 273.0L457.8 273.0L462.0 277.2L462.0 281.8L457.8 286.0L453.2 286.0L449.0 281.8L449.0 277.2zM464.2 276.0L468.8 276.0L473.0 280.2L473.0 284.8L468.8 289.0L464.2 289.0L460.0 284.8L460.0 280.2zM476.2 248.0L480.8 248.0L485.0 252.2L485.0 256.8L480.8 261.0L476.2 261.0L472.0 256.8L472.0 252.2zM487.2 236.0L491.8 236.0L496.0 240.2L496.0 244.8L491.8 249.0L487.2 249.0L483.0 244.8L483.0 240.2zM498.2 224.0L502.8 224.0L507.0 228.2L507.0 232.8L502.8 237.0L498.2 237.0L494.0 232.8L494.0 228.2zM509.2 236.0L513.8 236.0L518.0 240.2L518.0 244.8L513.8 249.0L509.2 249.0L505.0 244.8L505.0 240.2zM521.2 276.0L525.8 276.0L530.0 280.2L530.0 284.8L525.8 289.0L521.2 289.0L517.0 284.8L517.0 280.2zM532.2 279.0L536.8 279.0L541.0 283.2L541.0 287.8L536.8 292.0L532.2 292.0L528.0 287.8L528.0 283.2zM543.2 276.0L547.8 276.0L552.0 280.2L552.0 284.8L547.8 289.0L543.2 289.0L539.0 284.8L539.0 280.2zM555.2 270.0L559.8 270.0L564.0 274.2L564.0 278.8L559.8 283.0L555.2 283.0L551.0 278.8L551.0 274.2zM566.2 242.0L570.8 242.0L575.0 246.2L575.0 250.8L570.8 255.0L566.2 255.0L562.0 250.8L562.0 246.2zM577.2 242.0L581.8 242.0L586.0 246.2L586.0 250.8L581.8 255.0L577.2 255.0L573.0 250.8L573.0 246.2zM589.2 251.0L593.8 251.0L598.0 255.2L598.0 259.8L593.8 264.0L589.2 264.0L585.0 259.8L585.0 255.2zM600.2 273.0L604.8 273.0L609.0 277.2L609.0 281.8L604.8 286.0L600.2 286.0L596.0 281.8L596.0 277.2zM611.2 285.0L615.8 285.0L620.0 289.2L620.0 293.8L615.8 298.0L611.2 298.0L607.0 293.8L607.0 289.2zM622.2 251.0L626.8 251.0L631.0 255.2L631.0 259.8L626.8 264.0L622.2 264.0L618.0 259.8L618.0 255.2zM634.2 273.0L638.8 273.0L643.0 277.2L643.0 281.8L638.8 286.0L634.2 286.0L630.0 281.8L630.0 277.2zM645.2 233.0L649.8 233.0L654.0 237.2L654.0 241.8L649.8 246.0L645.2 246.0L641.0 241.8L641.0 237.2zM656.2 230.0L660.8 230.0L665.0 234.2L665.0 238.8L660.8 243.0L656.2 243.0L652.0 238.8L652.0 234.2zM668.2 236.0L672.8 236.0L677.0 240.2L677.0 244.8L672.8 249.0L668.2 249.0L664.0 244.8L664.0 240.2zM679.2 273.0L683.8 273.0L688.0 277.2L688.0 281.8L683.8 286.0L679.2 286.0L675.0 281.8L675.0 277.2zM690.2 251.0L694.8 251.0L699.0 255.2L699.0 259.8L694.8 264.0L690.2 264.0L686.0 259.8L686.0 255.2zM702.2 273.0L706.8 273.0L711.0 277.2L711.0 281.8L706.8 286.0L702.2 286.0L698.0 281.8L698.0 277.2zM713.2 248.0L717.8 248.0L722.0 252.2L722.0 256.8L717.8 261.0L713.2 261.0L709.0 256.8L709.0 252.2zM724.2 273.0L728.8 273.0L733.0 277.2L733.0 281.8L728.8 286.0L724.2 286.0L720.0 281.8L720.0 277.2zM735.2 258.0L739.8 258.0L744.0 262.2L744.0 266.8L739.8 271.0L735.2 271.0L731.0 266.8L731.0 262.2zM747.2 270.0L751.8 270.0L756.0 274.2L756.0 278.8L751.8 283.0L747.2 283.0L743.0 278.8L743.0 274.2zM758.2 258.0L762.8 258.0L767.0 262.2L767.0 266.8L762.8 271.0L758.2 271.0L754.0 266.8L754.0 262.2zM769.2 267.0L773.8 267.0L778.0 271.2L778.0 275.8L773.8 280.0L769.2 280.0L765.0 275.8L765.0 271.2zM781.2 276.0L785.8 276.0L790.0 280.2L790.0 284.8L785.8 289.0L781.2 289.0L777.0 284.8L777.0 280.2zM792.2 248.0L796.8 248.0L801.0 252.2L801.0 256.8L796.8 261.0L792.2 261.0L788.0 256.8L788.0 252.2zM803.2 227.0L807.8 227.0L812.0 231.2L812.0 235.8L807.8 240.0L803.2 240.0L799.0 235.8L799.0 231.2zM815.2 230.0L819.8 230.0L824.0 234.2L824.0 238.8L819.8 243.0L815.2 243.0L811.0 238.8L811.0 234.2zM826.2 239.0L830.8 239.0L835.0 243.2L835.0 247.8L830.8 252.0L826.2 252.0L822.0 247.8L822.0 243.2zM837.2 248.0L841.8 248.0L846.0 252.2L846.0 256.8L841.8 261.0L837.2 261.0L833.0 256.8L833.0 252.2zM848.2 239.0L852.8 239.0L857.0 243.2L857.0 247.8L852.8 252.0L848.2 252.0L844.0 247.8L844.0 243.2zM860.2 245.0L864.8 245.0L869.0 249.2L869.0 253.8L864.8 258.0L860.2 258.0L856.0 253.8L856.0 249.2zM871.2 276.0L875.8 276.0L880.0 280.2L880.0 284.8L875.8 289.0L871.2 289.0L867.0 284.8L867.0 280.2zM882.2 273.0L886.8 273.0L891.0 277.2L891.0 281.8L886.8 286.0L882.2 286.0L878.0 281.8L878.0 277.2zM894.2 279.0L898.8 279.0L903.0 283.2L903.0 287.8L898.8 292.0L894.2 292.0L890.0 287.8L890.0 283.2zM905.2 273.0L909.8 273.0L914.0 277.2L914.0 281.8L909.8 286.0L905.2 286.0L901.0 281.8L901.0 277.2zM916.2 273.0L920.8 273.0L925.0 277.2L925.0 281.8L920.8 286.0L916.2 286.0L912.0 281.8L912.0 277.2zM928.2 251.0L932.8 251.0L937.0 255.2L937.0 259.8L932.8 264.0L928.2 264.0L924.0 259.8L924.0 255.2z"/>
<path stroke="#000" stroke-width="1" fill="none" d="M263.5 375.0v-8M263.5 69.0v8M376.5 375.0v-8M376.5 69.0v8M489.5 375.0v-8M489.5 69.0v8M602.5 375.0v-8M602.5 69.0v8M715.5 375.0v-8M715.5 69.0v8M828.5 375.0v-8M828.5 69.0v8M941.5 375.0v-8M941.5 69.0v8M156.0 127.5h8M947.0 127.5h-8M156.0 188.5h8M947.0 188.5h-8M156.0 248.5h8M947.0 248.5h-8M156.0 309.5h8M947.0 309.5h-8M156.0 370.5h8M947.0 370.5h-8"/>
<rect x="155.5" y="68.5" width="792" height="307" fill="none" stroke="#000" stroke-width="1"/>
<text x="262.6" y="404.0" text-anchor="middle">10</text>
<text x="375.6" y="404.0" text-anchor="middle">20</text>
<text x="488.6" y="404.0" text-anchor="middle">30</text>
<text x="601.6" y="404.0" text-anchor="middle">40</text>
<text x="714.6" y="404.0" text-anchor="middle">50</text>
<text x="827.6" y="404.0" text-anchor="middle">60</text>
<text x="940.6" y="404.0" text-anchor="middle">70</text>
<text x="149.6" y="135.8" text-anchor="end">20</text>
<text x="149.6" y="196.6" text-anchor="end">40</text>
<text x="149.6" y="257.4" text-anchor="end">60</text>
<text x="149.6" y="318.1" text-anchor="end">80</text>
<text x="149.6" y="378.9" text-anchor="end">100</text>
<rect x="980" y="371" width="40" height="5" fill="#00008f"/><rect x="980" y="366" width="40" height="5" fill="#00009f"/><rect x="980" y="362" width="40" height="4" fill="#0000af"/><rect x="980" y="357" width="40" height="5" fill="#0000bf"/><rect x="980" y="352" width="40" height="5" fill="#0000cf"/><rect x="980" y="347" width="40" height="5" fill="#0000df"/><rect x="980" y="342" width="40" height="5" fill="#0000ef"/><rect x="980" y="338" width="40" height="4" fill="#0000ff"/><rect x="980" y="333" width="40" height="5" fill="#0010ff"/><rect x="980" y="328" width="40" height="5" fill="#0020ff"/><rect x="980" y="323" width="40" height="5" fill="#0030ff"/><rect x="980" y="318" width="40" height="5" fill="#0040ff"/><rect x="980" y="313" width="40" height="5" fill="#0050ff"/><rect x="980" y="309" width="40" height="4" fill="#0060ff"/><rect x="980" y="304" width="40" height="5" fill="#0070ff"/><rect x="980" y="299" width="40" height="5" fill="#0080ff"/><rect x="980" y="294" width="40" height="5" fill="#008fff"/><rect x="980" y="289" width="40" height="5" fill="#009fff"/><rect x="980" y="285" width="40" height="4" fill="#00afff"/><rect x="980" y="280" width="40" height="5" fill="#00bfff"/><rect x="980" y="275" width="40" height="5" fill="#00cfff"/><rect x="980" y="270" width="40" height="5" fill="#00dfff"/><rect x="980" y="265" width="40" height="5" fill="#00efff"/><rect x="980" y="260" width="40" height="5" fill="#00ffff"/><rect x="980" y="256" width="40" height="4" fill="#10ffef"/><rect x="980" y="251" width="40" height="5" fill="#20ffdf"/><rect x="980" y="246" width="40" height="5" fill="#30ffcf"/><rect x="980" y="241" width="40" height="5" fill="#40ffbf"/><rect x="980" y="236" width="40" height="5" fill="#50ffaf"/><rect x="980" y="232" width="40" height="4" fill="#60ff9f"/><rect x="980" y="227" width="40" height="5" fill="#70ff8f"/><rect x="980" y="222" width="40" height="5" fill="#80ff80"/><rect x="980" y="217" width="40" height="5" fill="#8fff70"/><rect x="980" y="212" width="40" height="5" fill="#9fff60"/><rect x="980" y="208" width="40" height="4" fill="#afff50"/><rect x="980" y="203" width="40" height="5" fill="#bfff40"/><rect x="980" y="198" width="40" height="5" fill="#cfff30"/><rect x="980" y="193" width="40" height="5" fill="#dfff20"/><rect x="980" y="188" width="40" height="5" fill="#efff10"/><rect x="980" y="184" width="40" height="4" fill="#ffff00"/><rect x="980" y="179" width="40" height="5" fill="#ffef00"/><rect x="980" y="174" width="40" height="5" fill="#ffdf00"/><rect x="980" y="169" width="40" height="5" fill="#ffcf00"/><rect x="980" y="164" width="40" height="5" fill="#ffbf00"/><rect x="980" y="159" width="40" height="5" fill="#ffaf00"/><rect x="980" y="155" width="40" height="4" fill="#ff9f00"/><rect x="980" y="150" width="40" height="5" fill="#ff8f00"/><rect x="980" y="145" width="40" height="5" fill="#ff8000"/><rect x="980" y="140" width="40" height="5" fill="#ff7000"/><rect x="980" y="135" width="40" height="5" fill="#ff6000"/><rect x="980" y="131" width="40" height="4" fill="#ff5000"/><rect x="980" y="126" width="40" height="5" fill="#ff4000"/><rect x="980" y="121" width="40" height="5" fill="#ff3000"/><rect x="980" y="116" width="40" height="5" fill="#ff2000"/><rect x="980" y="111" width="40" height="5" fill="#ff1000"/><rect x="980" y="106" width="40" height="5" fill="#ff0000"/><rect x="980" y="102" width="40" height="4" fill="#ef0000"/><rect x="980" y="97" width="40" height="5" fill="#df0000"/><rect x="980" y="92" width="40" height="5" fill="#cf0000"/><rect x="980" y="87" width="40" height="5" fill="#bf0000"/><rect x="980" y="82" width="40" height="5" fill="#af0000"/><rect x="980" y="78" width="40" height="4" fill="#9f0000"/><rect x="980" y="73" width="40" height="5" fill="#8f0000"/><rect x="980" y="68" width="40" height="5" fill="#800000"/>
<text x="1025" y="358.2">200</text>
<text x="1025" y="304.7">220</text>
<text x="1025" y="251.1">240</text>
<text x="1025" y="197.5">260</text>
<text x="1025" y="144.0">280</text>
<text x="1025" y="90.4">300</text>
<path stroke="#000" stroke-width="1" fill="none" d="M980.0 349.5h3M1020.0 349.5h-3M980.0 295.5h3M1020.0 295.5h-3M980.0 242.5h3M1020.0 242.5h-3M980.0 188.5h3M1020.0 188.5h-3M980.0 134.5h3M1020.0 134.5h-3M980.0 81.5h3M1020.0 81.5h-3"/>
<rect x="979.5" y="68.5" width="41" height="308" fill="none" stroke="#000" stroke-width="1"/>
<text y="51.7"><tspan x="388.00" textLength="37.50">T(K)</tspan> <tspan x="430.75">:</tspan> <tspan x="442.00" textLength="108.00">23-Sep-2012</tspan> <tspan x="555.00" textLength="70.20">10:13:41</tspan> <tspan x="632.00">-</tspan> <tspan x="643.50" textLength="71.00">10:14:38</tspan></text>
<text x="488.8" y="429.5" textLength="121.5">Record index</text>
<text transform="translate(105.6 256.5) rotate(-90)" textLength="67.5">P index</text>
</g>
<g>
<rect x="156" y="494" width="791" height="307" fill="#00008f"/>
<path fill="#00009f" d="M156 610h11v3h-11zM167 603h12v3h-12zM179 603h11v3h-11zM190 603h11v3h-11zM201 603h11v3h-11zM212 582h12v3h-12zM224 610h11v3h-11zM235 603h11v3h-11zM246 610h12v3h-12zM258 610h11v3h-11zM269 610h11v3h-11zM280 597h12v3h-12zM292 610h11v3h-11zM303 597h11v3h-11zM314 610h12v3h-12zM326 610h11v3h-11zM337 610h11v3h-11zM348 597h11v3h-11zM359 597h12v3h-12zM416 603h11v3h-11zM438 603h12v3h-12zM461 603h11v3h-11zM472 610h12v3h-12zM484 610h11v3h-11zM495 610h11v3h-11zM506 610h12v3h-12zM563 610h11v3h-11zM574 610h11v3h-11zM585 610h12v3h-12zM619 603h12v3h-12zM687 603h11v3h-11zM710 603h11v3h-11zM732 585h12v3h-12zM755 585h11v3h-11zM778 585h11v3h-11zM789 610h11v3h-11zM800 610h11v3h-11zM811 610h12v3h-12zM823 610h11v3h-11zM834 610h11v3h-11zM845 610h12v3h-12zM857 610h11v3h-11zM868 597h11v3h-11zM879 588h11v3h-11zM890 594h12v3h-12zM902 594h11v3h-11zM913 597h11v3h-11zM924 610h12v3h-12z"/>
<path fill="#0000af" d="M156 613h11v6h-11zM167 606h12v4h-12zM212 585h12v12h-12zM224 613h11v15h-11zM246 613h12v15h-12zM258 613h11v18h-11zM269 613h11v18h-11zM292 613h11v15h-11zM314 613h12v3h-12zM326 613h11v3h-11zM337 613h11v15h-11zM348 600h11v13h-11zM359 600h12v6h-12zM371 603h11v3h-11zM382 603h11v3h-11zM393 603h12v3h-12zM405 603h11v3h-11zM416 606h11v16h-11zM427 603h11v3h-11zM438 606h12v16h-12zM450 603h11v3h-11zM472 613h12v15h-12zM484 613h11v15h-11zM518 603h11v3h-11zM529 603h11v3h-11zM540 603h12v3h-12zM552 603h11v3h-11zM563 613h11v15h-11zM574 613h11v15h-11zM585 613h12v21h-12zM597 603h11v3h-11zM608 603h11v3h-11zM619 606h12v25h-12zM631 603h11v3h-11zM642 603h11v3h-11zM653 603h11v3h-11zM664 603h12v3h-12zM676 603h11v3h-11zM687 606h11v25h-11zM698 603h12v3h-12zM710 606h11v25h-11zM721 603h11v3h-11zM732 588h12v12h-12zM744 603h11v3h-11zM755 588h11v12h-11zM766 603h12v3h-12zM778 588h11v12h-11zM789 613h11v21h-11zM800 613h11v15h-11zM811 613h12v15h-12zM823 613h11v15h-11zM834 613h11v15h-11zM845 613h12v15h-12zM857 613h11v21h-11zM879 591h11v9h-11z"/>
<path fill="#0000bf" d="M156 619h11v9h-11zM167 610h12v6h-12zM179 606h11v10h-11zM190 606h11v10h-11zM201 606h11v13h-11zM212 597h12v6h-12zM224 628h11v12h-11zM235 606h11v10h-11zM246 628h12v9h-12zM258 631h11v9h-11zM269 631h11v9h-11zM280 600h12v13h-12zM292 628h11v9h-11zM303 600h11v10h-11zM314 616h12v21h-12zM326 616h11v21h-11zM337 628h11v6h-11zM348 613h11v3h-11zM371 606h11v10h-11zM382 606h11v13h-11zM393 606h12v13h-12zM405 606h11v10h-11zM416 622h11v9h-11zM427 606h11v10h-11zM438 622h12v9h-12zM450 606h11v7h-11zM461 606h11v13h-11zM472 628h12v6h-12zM495 613h11v12h-11zM506 613h12v12h-12zM518 606h11v7h-11zM529 606h11v7h-11zM540 606h12v10h-12zM552 606h11v10h-11zM597 606h11v7h-11zM608 606h11v7h-11zM631 606h11v7h-11zM642 606h11v22h-11zM653 606h11v22h-11zM664 606h12v25h-12zM676 606h11v7h-11zM698 606h12v7h-12zM721 606h11v7h-11zM732 600h12v6h-12zM744 606h11v7h-11zM755 600h11v6h-11zM766 606h12v7h-12zM778 600h11v6h-11zM868 600h11v13h-11zM879 600h11v10h-11zM890 597h12v13h-12zM902 597h11v13h-11zM913 600h11v13h-11zM924 613h12v15h-12z"/>
<path fill="#0000cf" d="M156 628h11v6h-11zM212 603h12v25h-12zM472 634h12v3h-12z"/>
<path fill="#0000df" d="M156 634h11v3h-11zM179 616h11v3h-11zM190 616h11v3h-11zM212 628h12v6h-12zM235 616h11v3h-11zM246 637h12v3h-12zM258 640h11v3h-11zM280 613h12v3h-12zM292 637h11v3h-11zM303 610h11v6h-11zM337 634h11v3h-11zM348 616h11v3h-11zM359 606h12v4h-12zM371 616h11v3h-11zM405 616h11v3h-11zM416 631h11v3h-11zM427 616h11v3h-11zM438 631h12v9h-12zM450 613h11v3h-11zM461 619h11v3h-11zM484 628h11v9h-11zM495 625h11v6h-11zM506 625h12v9h-12zM518 613h11v3h-11zM563 628h11v6h-11zM574 628h11v6h-11zM585 634h12v6h-12zM597 613h11v3h-11zM608 613h11v3h-11zM619 631h12v6h-12zM631 613h11v3h-11zM642 628h11v6h-11zM653 628h11v9h-11zM664 631h12v6h-12zM676 613h11v3h-11zM687 631h11v6h-11zM698 613h12v3h-12zM710 631h11v6h-11zM721 613h11v3h-11zM732 606h12v7h-12zM744 613h11v3h-11zM755 606h11v7h-11zM766 613h12v3h-12zM778 606h11v7h-11zM789 634h11v6h-11zM800 628h11v6h-11zM811 628h12v6h-12zM823 628h11v6h-11zM834 628h11v9h-11zM845 628h12v6h-12zM857 634h11v6h-11zM868 613h11v3h-11zM879 610h11v3h-11zM890 610h12v3h-12zM902 610h11v3h-11zM913 613h11v3h-11z"/>
<path fill="#0000ef" d="M156 637h11v3h-11zM167 616h12v3h-12zM201 619h11v3h-11zM212 634h12v6h-12zM393 619h12v3h-12zM472 637h12v3h-12zM529 613h11v3h-11zM540 616h12v3h-12zM552 616h11v3h-11zM924 628h12v9h-12z"/>
<path fill="#0000ff" d="M156 640h11v3h-11zM190 619h11v3h-11zM235 619h11v3h-11zM280 616h12v3h-12zM303 616h11v3h-11zM326 637h11v3h-11zM337 637h11v3h-11zM348 619h11v3h-11zM359 610h12v3h-12zM371 619h11v3h-11zM382 619h11v3h-11zM405 619h11v3h-11zM416 634h11v3h-11zM427 619h11v3h-11zM438 640h12v3h-12zM450 616h11v3h-11zM461 622h11v3h-11zM518 616h11v3h-11zM563 634h11v3h-11zM574 634h11v3h-11zM585 640h12v3h-12zM597 616h11v3h-11zM608 616h11v3h-11zM619 637h12v3h-12zM631 616h11v3h-11zM676 616h11v3h-11zM687 637h11v3h-11zM698 616h12v3h-12zM710 637h11v3h-11zM721 616h11v3h-11zM732 613h12v3h-12zM744 616h11v3h-11zM755 613h11v3h-11zM766 616h12v3h-12zM778 613h11v3h-11zM789 640h11v3h-11zM800 634h11v3h-11zM811 634h12v3h-12zM823 634h11v3h-11zM834 637h11v3h-11zM868 616h11v3h-11zM879 613h11v3h-11zM890 613h12v3h-12zM902 613h11v3h-11zM913 616h11v3h-11z"/>
<path fill="#0010ff" d="M167 619h12v3h-12zM179 619h11v3h-11zM190 622h11v3h-11zM212 640h12v12h-12zM280 619h12v3h-12zM303 619h11v3h-11zM314 637h12v3h-12zM348 622h11v3h-11zM359 613h12v3h-12zM472 640h12v3h-12zM484 637h11v3h-11zM495 631h11v3h-11zM529 616h11v3h-11zM540 619h12v3h-12zM642 634h11v3h-11zM664 637h12v3h-12zM845 634h12v3h-12zM857 640h11v3h-11zM924 637h12v3h-12z"/>
<path fill="#0020ff" d="M156 643h11v3h-11zM201 622h11v3h-11zM235 622h11v3h-11zM371 622h11v3h-11zM393 622h12v3h-12zM416 637h11v3h-11zM438 643h12v3h-12zM506 634h12v3h-12zM552 619h11v3h-11zM574 637h11v3h-11zM619 640h12v3h-12zM732 616h12v3h-12zM755 616h11v3h-11zM778 616h11v3h-11zM879 616h11v3h-11zM890 616h12v3h-12zM902 616h11v3h-11z"/>
<path fill="#0030ff" d="M179 622h11v3h-11zM212 652h12v9h-12zM224 640h11v3h-11zM348 625h11v3h-11zM382 622h11v3h-11zM427 622h11v3h-11zM450 619h11v3h-11zM461 625h11v3h-11zM518 619h11v3h-11zM563 637h11v3h-11zM585 643h12v3h-12zM597 619h11v3h-11zM608 619h11v3h-11zM631 619h11v3h-11zM653 637h11v3h-11zM676 619h11v3h-11zM687 640h11v3h-11zM698 619h12v3h-12zM710 640h11v3h-11zM721 619h11v3h-11zM744 619h11v3h-11zM766 619h12v3h-12zM811 637h12v3h-12zM823 637h11v3h-11zM834 640h11v3h-11zM845 637h12v3h-12zM868 619h11v3h-11zM913 619h11v3h-11z"/>
<path fill="#0040ff" d="M190 625h11v3h-11zM269 640h11v3h-11zM280 622h12v3h-12zM326 640h11v3h-11zM359 616h12v3h-12zM405 622h11v3h-11zM495 634h11v3h-11zM800 637h11v3h-11zM924 640h12v3h-12z"/>
<path fill="#0050ff" d="M156 646h11v3h-11zM167 622h12v3h-12zM179 625h11v3h-11zM235 625h11v3h-11zM246 640h12v3h-12zM258 643h11v3h-11zM292 640h11v3h-11zM303 622h11v3h-11zM314 640h12v3h-12zM337 640h11v3h-11zM348 628h11v3h-11zM371 625h11v3h-11zM416 640h11v3h-11zM438 646h12v3h-12zM461 628h11v3h-11zM472 643h12v3h-12zM506 637h12v3h-12zM529 619h11v3h-11zM540 622h12v3h-12zM642 637h11v3h-11zM664 640h12v3h-12zM732 619h12v3h-12zM755 619h11v3h-11zM778 619h11v3h-11zM789 643h11v3h-11zM857 643h11v3h-11zM879 619h11v3h-11zM890 619h12v3h-12zM902 619h11v3h-11zM913 622h11v3h-11z"/>
<path fill="#0060ff" d="M201 625h11v3h-11zM212 661h12v3h-12zM280 625h12v3h-12zM348 631h11v3h-11zM359 619h12v3h-12zM393 625h12v3h-12zM484 640h11v3h-11zM552 622h11v3h-11zM574 640h11v3h-11z"/>
<path fill="#0070ff" d="M179 628h11v3h-11zM235 628h11v3h-11zM371 628h11v3h-11zM382 625h11v3h-11zM427 625h11v3h-11zM450 622h11v3h-11zM495 637h11v3h-11zM518 622h11v3h-11zM563 640h11v3h-11zM597 622h11v3h-11zM608 622h11v3h-11zM608 716h11v3h-11zM619 643h12v3h-12zM631 622h11v3h-11zM653 640h11v3h-11zM676 622h11v3h-11zM687 643h11v3h-11zM698 622h12v3h-12zM710 643h11v3h-11zM721 622h11v3h-11zM744 622h11v3h-11zM766 622h12v3h-12zM811 640h12v3h-12zM823 640h11v3h-11zM834 643h11v3h-11zM845 640h12v3h-12zM868 622h11v3h-11z"/>
<path fill="#0080ff" d="M156 649h11v3h-11zM167 625h12v3h-12zM190 628h11v3h-11zM190 722h11v3h-11zM280 628h12v3h-12zM303 625h11v3h-11zM348 634h11v3h-11zM359 728h12v6h-12zM405 625h11v3h-11zM438 649h12v3h-12zM461 631h11v3h-11zM608 710h11v6h-11zM732 622h12v3h-12zM755 622h11v3h-11zM778 622h11v3h-11zM800 640h11v3h-11zM879 622h11v3h-11zM890 622h12v3h-12zM902 622h11v3h-11zM924 643h12v3h-12z"/>
<path fill="#008fff" d="M179 631h11v12h-11zM190 725h11v9h-11zM224 643h11v3h-11zM235 631h11v3h-11zM348 637h11v3h-11zM359 622h12v3h-12zM359 725h12v3h-12zM371 631h11v3h-11zM529 622h11v3h-11zM540 625h12v3h-12zM585 646h12v3h-12zM890 707h12v6h-12zM913 625h11v3h-11z"/>
<path fill="#009fff" d="M167 628h12v3h-12zM179 643h11v3h-11zM190 716h11v6h-11zM201 628h11v3h-11zM235 634h11v3h-11zM280 631h12v3h-12zM303 628h11v3h-11zM314 643h12v3h-12zM326 643h11v3h-11zM337 643h11v3h-11zM348 640h11v6h-11zM359 625h12v3h-12zM371 634h11v6h-11zM382 628h11v3h-11zM393 628h12v3h-12zM416 643h11v3h-11zM427 628h11v3h-11zM506 640h12v3h-12zM552 625h11v3h-11zM597 625h11v3h-11zM608 625h11v3h-11zM608 707h11v3h-11zM631 625h11v3h-11zM642 640h11v3h-11zM676 625h11v3h-11zM698 625h12v3h-12zM721 625h11v3h-11zM744 625h11v3h-11zM766 625h12v3h-12zM789 646h11v3h-11zM811 643h12v3h-12zM823 643h11v3h-11zM890 704h12v3h-12z"/>
<path fill="#00afff" d="M167 631h12v9h-12zM212 664h12v3h-12zM235 637h11v3h-11zM246 643h12v3h-12zM258 646h11v3h-11zM280 634h12v3h-12zM348 646h11v3h-11zM359 722h12v3h-12zM405 628h11v3h-11zM450 625h11v3h-11zM461 634h11v3h-11zM472 646h12v3h-12zM495 640h11v3h-11zM518 625h11v3h-11zM619 646h12v3h-12zM653 643h11v3h-11zM664 643h12v3h-12zM687 646h11v3h-11zM710 646h11v3h-11zM732 625h12v3h-12zM755 625h11v3h-11zM778 625h11v3h-11zM845 643h12v3h-12zM868 625h11v3h-11zM879 625h11v3h-11zM890 701h12v3h-12zM902 625h11v3h-11z"/>
<path fill="#00bfff" d="M156 652h11v3h-11zM167 640h12v6h-12zM167 740h12v3h-12zM190 631h11v3h-11zM190 713h11v3h-11zM359 628h12v18h-12zM371 640h11v3h-11zM371 725h11v3h-11zM563 643h11v3h-11zM574 643h11v3h-11zM778 707h11v3h-11zM890 625h12v3h-12zM913 628h11v3h-11z"/>
<path fill="#00cfff" d="M167 646h12v6h-12zM167 731h12v9h-12zM179 646h11v6h-11zM235 640h11v3h-11zM280 637h12v3h-12zM292 643h11v3h-11zM348 649h11v3h-11zM371 722h11v3h-11zM393 631h12v3h-12zM484 643h11v3h-11zM529 625h11v3h-11zM540 628h12v3h-12zM608 704h11v3h-11zM778 704h11v3h-11zM800 643h11v3h-11zM834 646h11v3h-11zM924 646h12v3h-12z"/>
<path fill="#00dfff" d="M167 652h12v3h-12zM167 725h12v6h-12zM179 725h11v12h-11zM190 710h11v3h-11zM201 631h11v3h-11zM235 719h11v9h-11zM280 640h12v3h-12zM303 631h11v3h-11zM348 652h11v3h-11zM359 646h12v3h-12zM359 719h12v3h-12zM371 643h11v3h-11zM371 719h11v3h-11zM382 631h11v3h-11zM405 631h11v3h-11zM427 631h11v3h-11zM461 637h11v3h-11zM597 628h11v3h-11zM608 628h11v3h-11zM631 628h11v3h-11zM676 628h11v3h-11zM698 628h12v3h-12zM721 628h11v3h-11zM732 628h12v3h-12zM744 628h11v3h-11zM755 628h11v3h-11zM766 628h12v3h-12zM778 701h11v3h-11zM879 628h11v3h-11zM902 628h11v3h-11z"/>
<path fill="#00efff" d="M179 652h11v3h-11zM179 722h11v3h-11zM235 643h11v3h-11zM269 643h11v3h-11zM857 646h11v3h-11z"/>
<path fill="#00ffff" d="M156 655h11v3h-11zM167 655h12v3h-12zM167 716h12v9h-12zM179 716h11v6h-11zM190 634h11v3h-11zM201 698h11v12h-11zM224 646h11v3h-11zM326 646h11v3h-11zM348 655h11v3h-11zM359 649h12v3h-12zM359 716h12v3h-12zM371 716h11v3h-11zM393 634h12v3h-12zM416 646h11v3h-11zM427 707h11v6h-11zM438 652h12v3h-12zM450 628h11v3h-11zM495 643h11v3h-11zM506 643h12v3h-12zM518 628h11v3h-11zM552 628h11v3h-11zM585 649h12v3h-12zM597 701h11v6h-11zM608 701h11v3h-11zM631 701h11v6h-11zM721 701h11v6h-11zM778 628h11v3h-11zM868 628h11v3h-11zM868 704h11v6h-11zM890 628h12v3h-12zM890 698h12v3h-12zM913 631h11v3h-11zM913 704h11v3h-11z"/>
<path fill="#10ffef" d="M190 707h11v3h-11zM201 695h11v3h-11zM235 716h11v3h-11zM280 643h12v3h-12zM303 634h11v3h-11zM303 710h11v3h-11zM314 646h12v3h-12zM359 652h12v3h-12zM371 646h11v3h-11zM371 713h11v3h-11zM382 634h11v3h-11zM427 634h11v3h-11zM427 704h11v3h-11zM540 631h12v3h-12zM597 698h11v3h-11zM631 698h11v3h-11zM642 643h11v3h-11zM687 649h11v3h-11zM710 649h11v3h-11zM721 698h11v3h-11zM778 698h11v3h-11zM868 701h11v3h-11zM913 695h11v9h-11z"/>
<path fill="#20ffdf" d="M156 701h11v6h-11zM179 713h11v3h-11zM201 634h11v3h-11zM303 707h11v3h-11zM337 646h11v3h-11zM405 634h11v3h-11zM461 640h11v3h-11zM529 628h11v3h-11zM529 710h11v3h-11zM879 704h11v3h-11zM902 701h11v6h-11z"/>
<path fill="#30ffcf" d="M156 695h11v6h-11zM167 713h12v3h-12zM179 655h11v3h-11zM201 692h11v3h-11zM224 685h11v19h-11zM235 646h11v3h-11zM235 713h11v3h-11zM246 646h12v3h-12zM246 676h12v25h-12zM258 649h11v3h-11zM269 698h11v3h-11zM303 704h11v3h-11zM359 655h12v3h-12zM359 713h12v3h-12zM371 649h11v3h-11zM393 637h12v3h-12zM450 692h11v15h-11zM461 701h11v9h-11zM472 649h12v3h-12zM529 707h11v3h-11zM563 646h11v3h-11zM597 631h11v3h-11zM608 631h11v3h-11zM619 649h12v3h-12zM631 631h11v3h-11zM676 631h11v3h-11zM698 631h12v3h-12zM721 631h11v3h-11zM732 631h12v3h-12zM744 631h11v3h-11zM755 631h11v3h-11zM766 631h12v3h-12zM811 646h12v3h-12zM823 646h11v3h-11zM879 631h11v3h-11zM879 698h11v6h-11zM902 631h11v3h-11zM902 689h11v12h-11z"/>
<path fill="#40ffbf" d="M156 658h11v3h-11zM156 685h11v10h-11zM167 658h12v3h-12zM179 710h11v3h-11zM190 637h11v3h-11zM212 667h12v3h-12zM269 682h11v16h-11zM382 637h11v3h-11zM450 631h11v3h-11zM518 631h11v3h-11zM529 704h11v3h-11zM574 646h11v3h-11zM664 646h12v3h-12zM778 631h11v3h-11zM789 649h11v3h-11zM800 646h11v3h-11z"/>
<path fill="#50ffaf" d="M190 704h11v3h-11zM201 689h11v3h-11zM224 676h11v9h-11zM280 646h12v3h-12zM280 710h12v3h-12zM303 637h11v3h-11zM348 658h11v3h-11zM371 710h11v3h-11zM382 710h11v3h-11zM427 701h11v3h-11zM450 689h11v3h-11zM461 698h11v3h-11zM529 701h11v3h-11zM540 704h12v6h-12zM552 631h11v3h-11zM597 695h11v3h-11zM608 698h11v3h-11zM631 695h11v3h-11zM721 695h11v3h-11zM845 646h12v3h-12zM890 695h12v3h-12zM902 685h11v4h-11zM913 689h11v6h-11z"/>
<path fill="#60ff9f" d="M167 710h12v3h-12zM393 713h12v3h-12zM427 637h11v3h-11zM518 707h11v3h-11zM540 701h12v3h-12zM676 704h11v3h-11zM766 698h12v3h-12zM834 649h11v3h-11zM868 631h11v3h-11zM868 698h11v3h-11z"/>
<path fill="#70ff8f" d="M179 707h11v3h-11zM201 637h11v3h-11zM235 649h11v3h-11zM280 707h12v3h-12zM348 713h11v3h-11zM359 710h12v3h-12zM382 707h11v3h-11zM393 710h12v3h-12zM405 637h11v3h-11zM405 707h11v3h-11zM416 649h11v3h-11zM461 643h11v3h-11zM518 704h11v3h-11zM540 634h12v3h-12zM552 698h11v6h-11zM597 692h11v3h-11zM653 646h11v3h-11zM676 701h11v3h-11zM698 704h12v3h-12zM766 692h12v6h-12zM879 695h11v3h-11zM890 631h12v3h-12zM913 634h11v3h-11z"/>
<path fill="#80ff80" d="M156 676h11v9h-11zM179 658h11v3h-11zM224 649h11v3h-11zM235 710h11v3h-11zM280 704h12v3h-12zM292 646h11v3h-11zM303 701h11v3h-11zM326 649h11v3h-11zM359 658h12v3h-12zM371 652h11v3h-11zM371 707h11v3h-11zM382 704h11v3h-11zM450 685h11v4h-11zM461 695h11v3h-11zM484 646h11v3h-11zM506 646h12v3h-12zM529 631h11v3h-11zM552 695h11v3h-11zM608 695h11v3h-11zM631 689h11v6h-11zM721 692h11v3h-11zM732 634h12v3h-12zM755 634h11v3h-11zM766 689h12v3h-12zM778 695h11v3h-11zM890 689h12v6h-12zM924 649h12v3h-12z"/>
<path fill="#8fff70" d="M156 661h11v3h-11zM190 640h11v3h-11zM190 701h11v3h-11zM201 685h11v4h-11zM224 673h11v3h-11zM246 673h12v3h-12zM269 679h11v3h-11zM280 649h12v3h-12zM348 710h11v3h-11zM382 640h11v3h-11zM393 640h12v3h-12zM393 707h12v3h-12zM405 704h11v3h-11zM518 701h11v3h-11zM529 698h11v3h-11zM552 692h11v3h-11zM597 689h11v3h-11zM631 685h11v4h-11zM676 698h11v3h-11zM698 701h12v3h-12zM721 689h11v3h-11zM744 698h11v6h-11zM778 634h11v3h-11zM857 649h11v3h-11zM879 634h11v3h-11zM879 689h11v6h-11zM913 685h11v4h-11z"/>
<path fill="#9fff60" d="M167 661h12v3h-12zM179 704h11v3h-11zM212 701h12v6h-12zM235 652h11v3h-11zM246 649h12v3h-12zM258 652h11v3h-11zM269 646h11v3h-11zM303 640h11v3h-11zM314 649h12v3h-12zM337 649h11v3h-11zM348 661h11v3h-11zM348 707h11v3h-11zM405 701h11v3h-11zM427 698h11v3h-11zM438 655h12v3h-12zM450 634h11v3h-11zM461 692h11v3h-11zM495 646h11v3h-11zM518 634h11v3h-11zM540 698h12v3h-12zM552 634h11v3h-11zM552 689h11v3h-11zM563 649h11v3h-11zM585 652h12v3h-12zM597 634h11v3h-11zM608 634h11v3h-11zM608 692h11v3h-11zM631 634h11v3h-11zM676 634h11v3h-11zM698 634h12v3h-12zM698 698h12v3h-12zM721 634h11v3h-11zM744 634h11v3h-11zM744 692h11v6h-11zM766 634h12v3h-12zM902 634h11v3h-11z"/>
<path fill="#afff50" d="M156 664h11v3h-11zM156 673h11v3h-11zM201 640h11v3h-11zM405 640h11v3h-11zM427 640h11v3h-11zM461 646h11v3h-11zM461 685h11v7h-11zM472 652h12v3h-12zM574 649h11v3h-11zM619 652h12v3h-12zM642 646h11v3h-11zM687 652h11v3h-11zM710 652h11v3h-11zM811 649h12v3h-12zM823 649h11v3h-11zM845 649h12v3h-12z"/>
<path fill="#bfff40" d="M156 667h11v6h-11zM190 643h11v18h-11zM212 698h12v3h-12zM212 707h12v3h-12zM224 652h11v9h-11zM235 707h11v3h-11zM269 676h11v3h-11zM303 698h11v3h-11zM359 707h12v3h-12zM371 655h11v3h-11zM371 704h11v3h-11zM427 695h11v3h-11zM450 682h11v3h-11zM518 637h11v21h-11zM529 634h11v24h-11zM540 637h12v21h-12zM552 637h11v21h-11zM597 637h11v21h-11zM608 637h11v21h-11zM608 689h11v3h-11zM631 637h11v21h-11zM664 649h12v3h-12zM676 637h11v21h-11zM698 637h12v21h-12zM721 637h11v21h-11zM721 685h11v4h-11zM732 637h12v24h-12zM744 637h11v21h-11zM744 689h11v3h-11zM755 637h11v24h-11zM766 637h12v21h-12zM766 685h12v4h-12zM778 637h11v24h-11zM800 649h11v3h-11zM868 634h11v24h-11zM868 695h11v3h-11zM879 637h11v24h-11zM890 634h12v27h-12zM890 685h12v4h-12zM902 637h11v24h-11zM913 637h11v24h-11z"/>
<path fill="#cfff30" d="M167 707h12v3h-12zM179 661h11v3h-11zM179 701h11v3h-11zM201 643h11v18h-11zM201 682h11v3h-11zM212 670h12v3h-12zM235 655h11v6h-11zM246 652h12v6h-12zM258 655h11v6h-11zM269 649h11v3h-11zM269 673h11v3h-11zM280 652h12v6h-12zM280 701h12v3h-12zM292 649h11v12h-11zM303 643h11v15h-11zM314 652h12v12h-12zM326 652h11v6h-11zM337 652h11v9h-11zM359 661h12v3h-12zM382 643h11v15h-11zM393 643h12v15h-12zM393 704h12v3h-12zM405 643h11v15h-11zM416 652h11v9h-11zM427 643h11v15h-11zM450 637h11v21h-11zM461 649h11v12h-11zM461 682h11v3h-11zM495 649h11v6h-11zM506 649h12v12h-12zM552 685h11v4h-11zM563 652h11v9h-11zM574 652h11v9h-11zM585 655h12v9h-12zM619 655h12v9h-12zM631 682h11v3h-11zM642 649h11v9h-11zM653 649h11v6h-11zM664 652h12v9h-12zM676 695h11v3h-11zM687 655h11v12h-11zM710 655h11v12h-11zM778 692h11v3h-11zM789 652h11v3h-11zM800 652h11v6h-11zM834 652h11v3h-11zM879 685h11v4h-11zM902 682h11v3h-11z"/>
<path fill="#dfff20" d="M190 698h11v3h-11zM212 710h12v3h-12zM269 652h11v6h-11zM303 658h11v3h-11zM348 704h11v3h-11zM382 658h11v3h-11zM382 701h11v3h-11zM393 658h12v3h-12zM405 658h11v3h-11zM427 658h11v3h-11zM427 692h11v3h-11zM438 658h12v6h-12zM450 658h11v3h-11zM472 655h12v9h-12zM484 649h11v12h-11zM495 655h11v3h-11zM518 658h11v3h-11zM518 698h11v3h-11zM529 695h11v3h-11zM540 658h12v3h-12zM552 658h11v3h-11zM597 658h11v3h-11zM597 685h11v4h-11zM608 658h11v3h-11zM631 658h11v3h-11zM642 658h11v6h-11zM653 655h11v6h-11zM664 661h12v6h-12zM676 658h11v3h-11zM698 658h12v3h-12zM721 658h11v3h-11zM732 661h12v3h-12zM744 658h11v3h-11zM755 661h11v3h-11zM766 658h12v3h-12zM778 661h11v3h-11zM789 655h11v12h-11zM800 658h11v3h-11zM811 652h12v12h-12zM823 652h11v9h-11zM834 655h11v6h-11zM845 652h12v9h-12zM857 652h11v12h-11zM868 658h11v3h-11zM879 661h11v3h-11zM890 661h12v3h-12zM902 661h11v3h-11zM924 652h12v9h-12z"/>
<path fill="#efff10" d="M190 661h11v3h-11zM212 695h12v3h-12zM224 661h11v12h-11zM246 664h12v9h-12zM258 667h11v6h-11zM269 658h11v3h-11zM280 658h12v3h-12zM303 695h11v3h-11zM326 658h11v9h-11zM348 664h11v3h-11zM371 658h11v3h-11zM405 698h11v3h-11zM416 661h11v9h-11zM461 661h11v3h-11zM461 679h11v3h-11zM484 661h11v9h-11zM506 661h12v9h-12zM529 658h11v3h-11zM563 661h11v3h-11zM574 661h11v3h-11zM585 664h12v3h-12zM619 664h12v3h-12zM642 664h11v3h-11zM653 661h11v3h-11zM664 667h12v3h-12zM687 667h11v3h-11zM710 667h11v3h-11zM744 685h11v4h-11zM868 692h11v3h-11z"/>
<path fill="#ffff00" d="M167 664h12v3h-12zM179 664h11v3h-11zM179 698h11v3h-11zM190 664h11v3h-11zM201 661h11v3h-11zM212 692h12v3h-12zM235 661h11v3h-11zM235 704h11v3h-11zM246 658h12v6h-12zM258 661h11v6h-11zM269 661h11v6h-11zM280 661h12v3h-12zM292 661h11v12h-11zM303 661h11v3h-11zM303 689h11v3h-11zM314 664h12v12h-12zM326 667h11v3h-11zM337 661h11v12h-11zM348 701h11v3h-11zM359 664h12v3h-12zM371 661h11v3h-11zM371 701h11v3h-11zM382 661h11v3h-11zM393 661h12v3h-12zM405 661h11v3h-11zM427 661h11v3h-11zM427 689h11v3h-11zM438 664h12v12h-12zM450 661h11v3h-11zM450 679h11v3h-11zM461 664h11v3h-11zM472 664h12v18h-12zM518 661h11v3h-11zM529 661h11v3h-11zM540 661h12v3h-12zM552 661h11v3h-11zM563 664h11v12h-11zM574 664h11v12h-11zM585 667h12v18h-12zM597 661h11v3h-11zM608 661h11v3h-11zM619 667h12v6h-12zM631 661h11v3h-11zM676 661h11v3h-11zM676 692h11v3h-11zM687 670h11v15h-11zM698 661h12v3h-12zM698 695h12v3h-12zM710 670h11v12h-11zM721 661h11v3h-11zM721 682h11v3h-11zM732 664h12v3h-12zM744 661h11v3h-11zM755 664h11v3h-11zM766 661h12v3h-12zM766 682h12v3h-12zM778 664h11v3h-11zM778 689h11v3h-11zM789 667h11v15h-11zM823 661h11v12h-11zM834 661h11v6h-11zM857 664h11v12h-11zM868 661h11v3h-11zM868 689h11v3h-11zM879 664h11v3h-11zM890 664h12v3h-12zM902 664h11v3h-11zM913 661h11v3h-11zM913 682h11v3h-11zM924 661h12v3h-12z"/>
<path fill="#ffef00" d="M190 667h11v3h-11zM201 664h11v3h-11zM201 679h11v3h-11zM212 713h12v3h-12zM235 664h11v3h-11zM269 667h11v6h-11zM280 664h12v3h-12zM303 664h11v3h-11zM303 692h11v3h-11zM348 667h11v3h-11zM359 704h12v3h-12zM371 664h11v3h-11zM382 664h11v3h-11zM393 664h12v3h-12zM393 701h12v3h-12zM405 664h11v3h-11zM427 664h11v3h-11zM450 664h11v3h-11zM461 667h11v3h-11zM518 664h11v3h-11zM540 664h12v3h-12zM540 689h12v3h-12zM552 664h11v3h-11zM552 682h11v3h-11zM597 664h11v3h-11zM608 664h11v3h-11zM608 685h11v4h-11zM619 673h12v12h-12zM631 664h11v3h-11zM676 664h11v3h-11zM676 689h11v3h-11zM698 664h12v3h-12zM721 664h11v3h-11zM732 667h12v3h-12zM744 664h11v3h-11zM755 667h11v3h-11zM766 664h12v3h-12zM778 667h11v3h-11zM845 661h12v12h-12zM868 664h11v3h-11zM879 667h11v3h-11zM890 667h12v3h-12zM902 667h11v3h-11zM913 664h11v3h-11z"/>
<path fill="#ffdf00" d="M167 704h12v3h-12zM179 667h11v3h-11zM190 695h11v3h-11zM201 667h11v3h-11zM212 673h12v3h-12zM212 689h12v3h-12zM303 685h11v4h-11zM359 667h12v3h-12zM427 685h11v4h-11zM461 676h11v3h-11zM529 664h11v3h-11zM597 682h11v3h-11zM631 679h11v3h-11zM698 689h12v3h-12zM721 679h11v3h-11zM834 667h11v3h-11zM913 667h11v3h-11zM924 664h12v3h-12z"/>
<path fill="#ffcf00" d="M167 667h12v3h-12zM179 695h11v3h-11zM190 670h11v3h-11zM201 670h11v3h-11zM235 667h11v3h-11zM235 701h11v3h-11zM280 667h12v3h-12zM280 698h12v3h-12zM303 667h11v3h-11zM348 670h11v3h-11zM348 698h11v3h-11zM371 667h11v3h-11zM382 667h11v3h-11zM382 698h11v3h-11zM393 667h12v3h-12zM405 667h11v3h-11zM405 689h11v3h-11zM405 695h11v3h-11zM427 667h11v6h-11zM450 667h11v6h-11zM450 676h11v3h-11zM461 670h11v6h-11zM518 667h11v3h-11zM518 695h11v3h-11zM529 667h11v3h-11zM540 667h12v3h-12zM540 692h12v6h-12zM552 667h11v3h-11zM597 667h11v3h-11zM608 667h11v3h-11zM608 682h11v3h-11zM631 667h11v3h-11zM676 667h11v3h-11zM676 685h11v4h-11zM698 667h12v3h-12zM721 667h11v3h-11zM732 670h12v3h-12zM744 667h11v3h-11zM744 682h11v3h-11zM755 670h11v3h-11zM766 667h12v3h-12zM778 670h11v3h-11zM868 667h11v3h-11zM879 670h11v3h-11zM879 682h11v3h-11zM890 670h12v3h-12zM890 682h12v3h-12zM902 670h11v3h-11z"/>
<path fill="#ffbf00" d="M179 670h11v3h-11zM190 689h11v3h-11zM201 673h11v6h-11zM303 670h11v3h-11zM359 670h12v3h-12zM371 698h11v3h-11zM382 670h11v3h-11zM405 670h11v3h-11zM427 682h11v3h-11zM450 673h11v3h-11zM518 670h11v3h-11zM540 670h12v3h-12zM552 670h11v3h-11zM597 670h11v3h-11zM608 670h11v3h-11zM631 670h11v3h-11zM676 670h11v3h-11zM698 670h12v3h-12zM698 685h12v4h-12zM721 670h11v3h-11zM744 670h11v3h-11zM766 670h12v3h-12zM766 679h12v3h-12zM913 670h11v3h-11z"/>
<path fill="#ffaf00" d="M167 670h12v3h-12zM179 673h11v6h-11zM190 673h11v3h-11zM190 692h11v3h-11zM212 676h12v3h-12zM212 685h12v4h-12zM212 716h12v3h-12zM235 670h11v12h-11zM280 670h12v6h-12zM303 673h11v6h-11zM303 682h11v3h-11zM348 673h11v3h-11zM359 673h12v9h-12zM359 701h12v3h-12zM371 670h11v6h-11zM382 673h11v3h-11zM393 670h12v6h-12zM405 673h11v9h-11zM405 685h11v4h-11zM405 692h11v3h-11zM427 673h11v9h-11zM518 673h11v3h-11zM529 670h11v6h-11zM540 673h12v3h-12zM540 685h12v4h-12zM552 673h11v9h-11zM597 673h11v9h-11zM608 673h11v6h-11zM631 673h11v6h-11zM676 673h11v3h-11zM698 673h12v3h-12zM698 692h12v3h-12zM721 673h11v6h-11zM732 673h12v3h-12zM744 673h11v3h-11zM755 673h11v3h-11zM766 673h12v3h-12zM778 673h11v3h-11zM834 670h11v12h-11zM868 670h11v6h-11zM868 685h11v4h-11zM879 673h11v3h-11zM890 673h12v3h-12zM902 673h11v3h-11zM913 673h11v3h-11zM924 667h12v3h-12z"/>
<path fill="#ff9f00" d="M167 673h12v3h-12zM167 701h12v3h-12zM190 676h11v6h-11zM212 679h12v3h-12zM348 676h11v9h-11zM371 676h11v9h-11zM382 676h11v6h-11zM393 676h12v6h-12zM393 698h12v3h-12zM405 682h11v3h-11zM518 676h11v6h-11zM540 676h12v3h-12z"/>
<path fill="#ff8f00" d="M167 676h12v9h-12zM179 679h11v6h-11zM190 682h11v3h-11zM212 682h12v3h-12zM235 682h11v7h-11zM280 676h12v6h-12zM280 695h12v3h-12zM303 679h11v3h-11zM348 695h11v3h-11zM359 682h12v7h-12zM371 685h11v4h-11zM382 682h11v7h-11zM393 682h12v7h-12zM518 682h11v3h-11zM529 676h11v6h-11zM529 692h11v3h-11zM540 682h12v3h-12zM608 679h11v3h-11zM676 676h11v9h-11zM698 676h12v9h-12zM732 676h12v3h-12zM744 676h11v3h-11zM766 676h12v3h-12zM778 676h11v3h-11zM778 685h11v4h-11zM868 676h11v9h-11zM879 676h11v3h-11zM890 676h12v6h-12zM902 676h11v6h-11zM913 676h11v6h-11zM924 670h12v15h-12z"/>
<path fill="#ff8000" d="M190 685h11v4h-11zM235 698h11v3h-11zM280 682h12v3h-12zM348 685h11v7h-11zM371 695h11v3h-11zM529 682h11v3h-11zM540 679h12v3h-12zM732 679h12v10h-12zM744 679h11v3h-11zM778 679h11v3h-11zM879 679h11v3h-11z"/>
<path fill="#ff7000" d="M167 685h12v7h-12zM179 685h11v4h-11zM179 692h11v3h-11zM235 689h11v6h-11zM280 685h12v7h-12zM348 692h11v3h-11zM359 689h12v3h-12zM371 689h11v3h-11zM382 689h11v3h-11zM393 689h12v3h-12zM518 685h11v4h-11zM529 685h11v4h-11zM732 689h12v3h-12zM755 676h11v3h-11z"/>
<path fill="#ff6000" d="M167 692h12v3h-12zM167 698h12v3h-12zM179 689h11v3h-11zM280 692h12v3h-12zM359 698h12v3h-12zM371 692h11v3h-11zM382 692h11v6h-11zM393 692h12v6h-12zM518 689h11v3h-11zM529 689h11v3h-11zM755 679h11v13h-11zM778 682h11v3h-11z"/>
<path fill="#ff5000" d="M235 695h11v3h-11zM359 692h12v3h-12zM518 692h11v3h-11z"/>
<path fill="#ff4000" d="M167 695h12v3h-12zM359 695h12v3h-12z"/>
<path fill="#ff2000" d="M212 719h12v3h-12z"/>
<path fill="#ff1000" d="M212 722h12v6h-12z"/>
<path fill="#fff" d="M159.2 699.0L163.8 699.0L168.0 703.2L168.0 707.8L163.8 712.0L159.2 712.0L155.0 707.8L155.0 703.2zM170.2 735.0L174.8 735.0L179.0 739.2L179.0 743.8L174.8 748.0L170.2 748.0L166.0 743.8L166.0 739.2zM182.2 729.0L186.8 729.0L191.0 733.2L191.0 737.8L186.8 742.0L182.2 742.0L178.0 737.8L178.0 733.2zM193.2 726.0L197.8 726.0L202.0 730.2L202.0 734.8L197.8 739.0L193.2 739.0L189.0 734.8L189.0 730.2zM204.2 702.0L208.8 702.0L213.0 706.2L213.0 710.8L208.8 715.0L204.2 715.0L200.0 710.8L200.0 706.2zM216.2 720.0L220.8 720.0L225.0 724.2L225.0 728.8L220.8 733.0L216.2 733.0L212.0 728.8L212.0 724.2zM227.2 662.0L231.8 662.0L236.0 666.2L236.0 670.8L231.8 675.0L227.2 675.0L223.0 670.8L223.0 666.2zM238.2 720.0L242.8 720.0L247.0 724.2L247.0 728.8L242.8 733.0L238.2 733.0L234.0 728.8L234.0 724.2zM250.2 662.0L254.8 662.0L259.0 666.2L259.0 670.8L254.8 675.0L250.2 675.0L246.0 670.8L246.0 666.2zM261.2 665.0L265.8 665.0L270.0 669.2L270.0 673.8L265.8 678.0L261.2 678.0L257.0 673.8L257.0 669.2zM272.2 653.0L276.8 653.0L281.0 657.2L281.0 661.8L276.8 666.0L272.2 666.0L268.0 661.8L268.0 657.2zM283.2 705.0L287.8 705.0L292.0 709.2L292.0 713.8L287.8 718.0L283.2 718.0L279.0 713.8L279.0 709.2zM295.2 665.0L299.8 665.0L304.0 669.2L304.0 673.8L299.8 678.0L295.2 678.0L291.0 673.8L291.0 669.2zM306.2 705.0L310.8 705.0L315.0 709.2L315.0 713.8L310.8 718.0L306.2 718.0L302.0 713.8L302.0 709.2zM317.2 671.0L321.8 671.0L326.0 675.2L326.0 679.8L321.8 684.0L317.2 684.0L313.0 679.8L313.0 675.2zM329.2 662.0L333.8 662.0L338.0 666.2L338.0 670.8L333.8 675.0L329.2 675.0L325.0 670.8L325.0 666.2zM340.2 665.0L344.8 665.0L349.0 669.2L349.0 673.8L344.8 678.0L340.2 678.0L336.0 673.8L336.0 669.2zM351.2 708.0L355.8 708.0L360.0 712.2L360.0 716.8L355.8 721.0L351.2 721.0L347.0 716.8L347.0 712.2zM363.2 726.0L367.8 726.0L372.0 730.2L372.0 734.8L367.8 739.0L363.2 739.0L359.0 734.8L359.0 730.2zM374.2 720.0L378.8 720.0L383.0 724.2L383.0 728.8L378.8 733.0L374.2 733.0L370.0 728.8L370.0 724.2zM385.2 705.0L389.8 705.0L394.0 709.2L394.0 713.8L389.8 718.0L385.2 718.0L381.0 713.8L381.0 709.2zM396.2 708.0L400.8 708.0L405.0 712.2L405.0 716.8L400.8 721.0L396.2 721.0L392.0 716.8L392.0 712.2zM408.2 702.0L412.8 702.0L417.0 706.2L417.0 710.8L412.8 715.0L408.2 715.0L404.0 710.8L404.0 706.2zM419.2 662.0L423.8 662.0L428.0 666.2L428.0 670.8L423.8 675.0L419.2 675.0L415.0 670.8L415.0 666.2zM430.2 705.0L434.8 705.0L439.0 709.2L439.0 713.8L434.8 718.0L430.2 718.0L426.0 713.8L426.0 709.2zM442.2 671.0L446.8 671.0L451.0 675.2L451.0 679.8L446.8 684.0L442.2 684.0L438.0 679.8L438.0 675.2zM453.2 699.0L457.8 699.0L462.0 703.2L462.0 707.8L457.8 712.0L453.2 712.0L449.0 707.8L449.0 703.2zM464.2 702.0L468.8 702.0L473.0 706.2L473.0 710.8L468.8 715.0L464.2 715.0L460.0 710.8L460.0 706.2zM476.2 674.0L480.8 674.0L485.0 678.2L485.0 682.8L480.8 687.0L476.2 687.0L472.0 682.8L472.0 678.2zM487.2 662.0L491.8 662.0L496.0 666.2L496.0 670.8L491.8 675.0L487.2 675.0L483.0 670.8L483.0 666.2zM498.2 650.0L502.8 650.0L507.0 654.2L507.0 658.8L502.8 663.0L498.2 663.0L494.0 658.8L494.0 654.2zM509.2 662.0L513.8 662.0L518.0 666.2L518.0 670.8L513.8 675.0L509.2 675.0L505.0 670.8L505.0 666.2zM521.2 702.0L525.8 702.0L530.0 706.2L530.0 710.8L525.8 715.0L521.2 715.0L517.0 710.8L517.0 706.2zM532.2 705.0L536.8 705.0L541.0 709.2L541.0 713.8L536.8 718.0L532.2 718.0L528.0 713.8L528.0 709.2zM543.2 702.0L547.8 702.0L552.0 706.2L552.0 710.8L547.8 715.0L543.2 715.0L539.0 710.8L539.0 706.2zM555.2 696.0L559.8 696.0L564.0 700.2L564.0 704.8L559.8 709.0L555.2 709.0L551.0 704.8L551.0 700.2zM566.2 668.0L570.8 668.0L575.0 672.2L575.0 676.8L570.8 681.0L566.2 681.0L562.0 676.8L562.0 672.2zM577.2 668.0L581.8 668.0L586.0 672.2L586.0 676.8L581.8 681.0L577.2 681.0L573.0 676.8L573.0 672.2zM589.2 677.0L593.8 677.0L598.0 681.2L598.0 685.8L593.8 690.0L589.2 690.0L585.0 685.8L585.0 681.2zM600.2 699.0L604.8 699.0L609.0 703.2L609.0 707.8L604.8 712.0L600.2 712.0L596.0 707.8L596.0 703.2zM611.2 711.0L615.8 711.0L620.0 715.2L620.0 719.8L615.8 724.0L611.2 724.0L607.0 719.8L607.0 715.2zM622.2 677.0L626.8 677.0L631.0 681.2L631.0 685.8L626.8 690.0L622.2 690.0L618.0 685.8L618.0 681.2zM634.2 699.0L638.8 699.0L643.0 703.2L643.0 707.8L638.8 712.0L634.2 712.0L630.0 707.8L630.0 703.2zM645.2 659.0L649.8 659.0L654.0 663.2L654.0 667.8L649.8 672.0L645.2 672.0L641.0 667.8L641.0 663.2zM656.2 656.0L660.8 656.0L665.0 660.2L665.0 664.8L660.8 669.0L656.2 669.0L652.0 664.8L652.0 660.2zM668.2 662.0L672.8 662.0L677.0 666.2L677.0 670.8L672.8 675.0L668.2 675.0L664.0 670.8L664.0 666.2zM679.2 699.0L683.8 699.0L688.0 703.2L688.0 707.8L683.8 712.0L679.2 712.0L675.0 707.8L675.0 703.2zM690.2 677.0L694.8 677.0L699.0 681.2L699.0 685.8L694.8 690.0L690.2 690.0L686.0 685.8L686.0 681.2zM702.2 699.0L706.8 699.0L711.0 703.2L711.0 707.8L706.8 712.0L702.2 712.0L698.0 707.8L698.0 703.2zM713.2 674.0L717.8 674.0L722.0 678.2L722.0 682.8L717.8 687.0L713.2 687.0L709.0 682.8L709.0 678.2zM724.2 699.0L728.8 699.0L733.0 703.2L733.0 707.8L728.8 712.0L724.2 712.0L720.0 707.8L720.0 703.2zM735.2 684.0L739.8 684.0L744.0 688.2L744.0 692.8L739.8 697.0L735.2 697.0L731.0 692.8L731.0 688.2zM747.2 696.0L751.8 696.0L756.0 700.2L756.0 704.8L751.8 709.0L747.2 709.0L743.0 704.8L743.0 700.2zM758.2 684.0L762.8 684.0L767.0 688.2L767.0 692.8L762.8 697.0L758.2 697.0L754.0 692.8L754.0 688.2zM769.2 693.0L773.8 693.0L778.0 697.2L778.0 701.8L773.8 706.0L769.2 706.0L765.0 701.8L765.0 697.2zM781.2 702.0L785.8 702.0L790.0 706.2L790.0 710.8L785.8 715.0L781.2 715.0L777.0 710.8L777.0 706.2zM792.2 674.0L796.8 674.0L801.0 678.2L801.0 682.8L796.8 687.0L792.2 687.0L788.0 682.8L788.0 678.2zM803.2 653.0L807.8 653.0L812.0 657.2L812.0 661.8L807.8 666.0L803.2 666.0L799.0 661.8L799.0 657.2zM815.2 656.0L819.8 656.0L824.0 660.2L824.0 664.8L819.8 669.0L815.2 669.0L811.0 664.8L811.0 660.2zM826.2 665.0L830.8 665.0L835.0 669.2L835.0 673.8L830.8 678.0L826.2 678.0L822.0 673.8L822.0 669.2zM837.2 674.0L841.8 674.0L846.0 678.2L846.0 682.8L841.8 687.0L837.2 687.0L833.0 682.8L833.0 678.2zM848.2 665.0L852.8 665.0L857.0 669.2L857.0 673.8L852.8 678.0L848.2 678.0L844.0 673.8L844.0 669.2zM860.2 671.0L864.8 671.0L869.0 675.2L869.0 679.8L864.8 684.0L860.2 684.0L856.0 679.8L856.0 675.2zM871.2 702.0L875.8 702.0L880.0 706.2L880.0 710.8L875.8 715.0L871.2 715.0L867.0 710.8L867.0 706.2zM882.2 699.0L886.8 699.0L891.0 703.2L891.0 707.8L886.8 712.0L882.2 712.0L878.0 707.8L878.0 703.2zM894.2 705.0L898.8 705.0L903.0 709.2L903.0 713.8L898.8 718.0L894.2 718.0L890.0 713.8L890.0 709.2zM905.2 699.0L909.8 699.0L914.0 703.2L914.0 707.8L909.8 712.0L905.2 712.0L901.0 707.8L901.0 703.2zM916.2 699.0L920.8 699.0L925.0 703.2L925.0 707.8L920.8 712.0L916.2 712.0L912.0 707.8L912.0 703.2zM928.2 677.0L932.8 677.0L937.0 681.2L937.0 685.8L932.8 690.0L928.2 690.0L924.0 685.8L924.0 681.2z"/>
<path stroke="#000" stroke-width="1" fill="none" d="M263.5 801.0v-8M263.5 495.0v8M376.5 801.0v-8M376.5 495.0v8M489.5 801.0v-8M489.5 495.0v8M602.5 801.0v-8M602.5 495.0v8M715.5 801.0v-8M715.5 495.0v8M828.5 801.0v-8M828.5 495.0v8M941.5 801.0v-8M941.5 495.0v8M156.0 553.5h8M947.0 553.5h-8M156.0 614.5h8M947.0 614.5h-8M156.0 674.5h8M947.0 674.5h-8M156.0 735.5h8M947.0 735.5h-8M156.0 796.5h8M947.0 796.5h-8"/>
<rect x="155.5" y="494.5" width="792" height="307" fill="none" stroke="#000" stroke-width="1"/>
<text x="262.6" y="830.0" text-anchor="middle">10</text>
<text x="375.6" y="830.0" text-anchor="middle">20</text>
<text x="488.6" y="830.0" text-anchor="middle">30</text>
<text x="601.6" y="830.0" text-anchor="middle">40</text>
<text x="714.6" y="830.0" text-anchor="middle">50</text>
<text x="827.6" y="830.0" text-anchor="middle">60</text>
<text x="940.6" y="830.0" text-anchor="middle">70</text>
<text x="149.6" y="561.8" text-anchor="end">20</text>
<text x="149.6" y="622.6" text-anchor="end">40</text>
<text x="149.6" y="683.4" text-anchor="end">60</text>
<text x="149.6" y="744.1" text-anchor="end">80</text>
<text x="149.6" y="804.9" text-anchor="end">100</text>
<rect x="980" y="797" width="40" height="5" fill="#00008f"/><rect x="980" y="792" width="40" height="5" fill="#00009f"/><rect x="980" y="788" width="40" height="4" fill="#0000af"/><rect x="980" y="783" width="40" height="5" fill="#0000bf"/><rect x="980" y="778" width="40" height="5" fill="#0000cf"/><rect x="980" y="773" width="40" height="5" fill="#0000df"/><rect x="980" y="768" width="40" height="5" fill="#0000ef"/><rect x="980" y="764" width="40" height="4" fill="#0000ff"/><rect x="980" y="759" width="40" height="5" fill="#0010ff"/><rect x="980" y="754" width="40" height="5" fill="#0020ff"/><rect x="980" y="749" width="40" height="5" fill="#0030ff"/><rect x="980" y="744" width="40" height="5" fill="#0040ff"/><rect x="980" y="739" width="40" height="5" fill="#0050ff"/><rect x="980" y="735" width="40" height="4" fill="#0060ff"/><rect x="980" y="730" width="40" height="5" fill="#0070ff"/><rect x="980" y="725" width="40" height="5" fill="#0080ff"/><rect x="980" y="720" width="40" height="5" fill="#008fff"/><rect x="980" y="715" width="40" height="5" fill="#009fff"/><rect x="980" y="711" width="40" height="4" fill="#00afff"/><rect x="980" y="706" width="40" height="5" fill="#00bfff"/><rect x="980" y="701" width="40" height="5" fill="#00cfff"/><rect x="980" y="696" width="40" height="5" fill="#00dfff"/><rect x="980" y="691" width="40" height="5" fill="#00efff"/><rect x="980" y="686" width="40" height="5" fill="#00ffff"/><rect x="980" y="682" width="40" height="4" fill="#10ffef"/><rect x="980" y="677" width="40" height="5" fill="#20ffdf"/><rect x="980" y="672" width="40" height="5" fill="#30ffcf"/><rect x="980" y="667" width="40" height="5" fill="#40ffbf"/><rect x="980" y="662" width="40" height="5" fill="#50ffaf"/><rect x="980" y="658" width="40" height="4" fill="#60ff9f"/><rect x="980" y="653" width="40" height="5" fill="#70ff8f"/><rect x="980" y="648" width="40" height="5" fill="#80ff80"/><rect x="980" y="643" width="40" height="5" fill="#8fff70"/><rect x="980" y="638" width="40" height="5" fill="#9fff60"/><rect x="980" y="634" width="40" height="4" fill="#afff50"/><rect x="980" y="629" width="40" height="5" fill="#bfff40"/><rect x="980" y="624" width="40" height="5" fill="#cfff30"/><rect x="980" y="619" width="40" height="5" fill="#dfff20"/><rect x="980" y="614" width="40" height="5" fill="#efff10"/><rect x="980" y="610" width="40" height="4" fill="#ffff00"/><rect x="980" y="605" width="40" height="5" fill="#ffef00"/><rect x="980" y="600" width="40" height="5" fill="#ffdf00"/><rect x="980" y="595" width="40" height="5" fill="#ffcf00"/><rect x="980" y="590" width="40" height="5" fill="#ffbf00"/><rect x="980" y="585" width="40" height="5" fill="#ffaf00"/><rect x="980" y="581" width="40" height="4" fill="#ff9f00"/><rect x="980" y="576" width="40" height="5" fill="#ff8f00"/><rect x="980" y="571" width="40" height="5" fill="#ff8000"/><rect x="980" y="566" width="40" height="5" fill="#ff7000"/><rect x="980" y="561" width="40" height="5" fill="#ff6000"/><rect x="980" y="557" width="40" height="4" fill="#ff5000"/><rect x="980" y="552" width="40" height="5" fill="#ff4000"/><rect x="980" y="547" width="40" height="5" fill="#ff3000"/><rect x="980" y="542" width="40" height="5" fill="#ff2000"/><rect x="980" y="537" width="40" height="5" fill="#ff1000"/><rect x="980" y="532" width="40" height="5" fill="#ff0000"/><rect x="980" y="528" width="40" height="4" fill="#ef0000"/><rect x="980" y="523" width="40" height="5" fill="#df0000"/><rect x="980" y="518" width="40" height="5" fill="#cf0000"/><rect x="980" y="513" width="40" height="5" fill="#bf0000"/><rect x="980" y="508" width="40" height="5" fill="#af0000"/><rect x="980" y="504" width="40" height="4" fill="#9f0000"/><rect x="980" y="499" width="40" height="5" fill="#8f0000"/><rect x="980" y="494" width="40" height="5" fill="#800000"/>
<text x="1025" y="811.0">0</text>
<text x="1025" y="749.4">20</text>
<text x="1025" y="687.8">40</text>
<text x="1025" y="626.2">60</text>
<text x="1025" y="564.6">80</text>
<text x="1025" y="503.0">100</text>
<path stroke="#000" stroke-width="1" fill="none" d="M980.0 802.5h3M1020.0 802.5h-3M980.0 740.5h3M1020.0 740.5h-3M980.0 678.5h3M1020.0 678.5h-3M980.0 617.5h3M1020.0 617.5h-3M980.0 555.5h3M1020.0 555.5h-3M980.0 494.5h3M1020.0 494.5h-3"/>
<rect x="979.5" y="494.5" width="41" height="308" fill="none" stroke="#000" stroke-width="1"/>
<text y="477.7"><tspan x="377.25" textLength="57.00">RH(%)</tspan> <tspan x="439.50">:</tspan> <tspan x="451.00" textLength="108.00">23-Sep-2012</tspan> <tspan x="564.00" textLength="71.20">10:13:41</tspan> <tspan x="641.00">-</tspan> <tspan x="652.50" textLength="71.00">10:14:38</tspan></text>
<text x="488.8" y="855.5" textLength="121.5">Record index</text>
<text transform="translate(105.6 682.5) rotate(-90)" textLength="67.5">P index</text>
</g>
</svg></body></html>
